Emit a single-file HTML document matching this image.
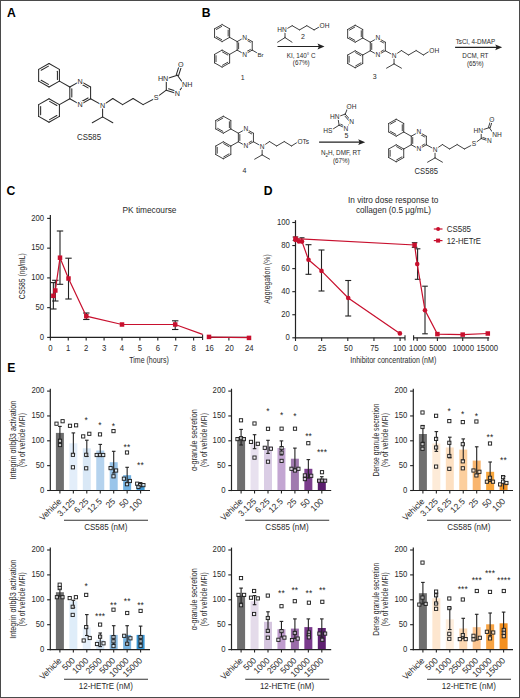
<!DOCTYPE html>
<html><head><meta charset="utf-8"><style>
html,body{margin:0;padding:0;background:#fff;}
svg{display:block;}
text{font-family:"Liberation Sans", sans-serif;}
</style></head><body>
<svg width="520" height="698" viewBox="0 0 520 698">
<rect x="0" y="0" width="520" height="698" fill="#fff"/>
<text x="7.00" y="16.90" font-size="12.2" text-anchor="start" fill="#000" font-weight="bold" >A</text>
<text x="201.70" y="16.90" font-size="12.2" text-anchor="start" fill="#000" font-weight="bold" >B</text>
<text x="6.60" y="194.50" font-size="12.2" text-anchor="start" fill="#000" font-weight="bold" >C</text>
<text x="263.70" y="194.90" font-size="12.2" text-anchor="start" fill="#000" font-weight="bold" >D</text>
<text x="7.30" y="372.20" font-size="12.2" text-anchor="start" fill="#000" font-weight="bold" >E</text>
<text x="149.50" y="212.70" font-size="8.4" text-anchor="middle" fill="#2a2a2a" textLength="54.00" lengthAdjust="spacingAndGlyphs">PK timecourse</text>
<line x1="50.35" y1="215.00" x2="50.35" y2="338.00" stroke="#222" stroke-width="1.2" />
<line x1="47.15" y1="337.40" x2="50.35" y2="337.40" stroke="#222" stroke-width="1.1" />
<text x="44.15" y="339.70" font-size="9" text-anchor="end" fill="#2a2a2a" textLength="4.30" lengthAdjust="spacingAndGlyphs">0</text>
<line x1="47.15" y1="307.65" x2="50.35" y2="307.65" stroke="#222" stroke-width="1.1" />
<text x="44.15" y="309.95" font-size="9" text-anchor="end" fill="#2a2a2a" textLength="8.60" lengthAdjust="spacingAndGlyphs">50</text>
<line x1="47.15" y1="277.90" x2="50.35" y2="277.90" stroke="#222" stroke-width="1.1" />
<text x="44.15" y="280.20" font-size="9" text-anchor="end" fill="#2a2a2a" textLength="12.90" lengthAdjust="spacingAndGlyphs">100</text>
<line x1="47.15" y1="248.15" x2="50.35" y2="248.15" stroke="#222" stroke-width="1.1" />
<text x="44.15" y="250.45" font-size="9" text-anchor="end" fill="#2a2a2a" textLength="12.90" lengthAdjust="spacingAndGlyphs">150</text>
<line x1="47.15" y1="218.40" x2="50.35" y2="218.40" stroke="#222" stroke-width="1.1" />
<text x="44.15" y="220.70" font-size="9" text-anchor="end" fill="#2a2a2a" textLength="12.90" lengthAdjust="spacingAndGlyphs">200</text>
<text transform="translate(24.80,276.20) rotate(-90)" font-size="9" text-anchor="middle" fill="#2a2a2a" textLength="46.00" lengthAdjust="spacingAndGlyphs">CS585 (ng/mL)</text>
<line x1="49.75" y1="337.40" x2="202.60" y2="337.40" stroke="#222" stroke-width="1.2" />
<line x1="202.60" y1="334.40" x2="202.60" y2="340.00" stroke="#222" stroke-width="1.1" />
<line x1="50.35" y1="337.40" x2="50.35" y2="340.60" stroke="#222" stroke-width="1.1" />
<text x="50.35" y="351.00" font-size="9" text-anchor="middle" fill="#2a2a2a" textLength="4.30" lengthAdjust="spacingAndGlyphs">0</text>
<line x1="68.26" y1="337.40" x2="68.26" y2="340.60" stroke="#222" stroke-width="1.1" />
<text x="68.26" y="351.00" font-size="9" text-anchor="middle" fill="#2a2a2a" textLength="4.30" lengthAdjust="spacingAndGlyphs">1</text>
<line x1="86.17" y1="337.40" x2="86.17" y2="340.60" stroke="#222" stroke-width="1.1" />
<text x="86.17" y="351.00" font-size="9" text-anchor="middle" fill="#2a2a2a" textLength="4.30" lengthAdjust="spacingAndGlyphs">2</text>
<line x1="104.08" y1="337.40" x2="104.08" y2="340.60" stroke="#222" stroke-width="1.1" />
<text x="104.08" y="351.00" font-size="9" text-anchor="middle" fill="#2a2a2a" textLength="4.30" lengthAdjust="spacingAndGlyphs">3</text>
<line x1="121.99" y1="337.40" x2="121.99" y2="340.60" stroke="#222" stroke-width="1.1" />
<text x="121.99" y="351.00" font-size="9" text-anchor="middle" fill="#2a2a2a" textLength="4.30" lengthAdjust="spacingAndGlyphs">4</text>
<line x1="139.90" y1="337.40" x2="139.90" y2="340.60" stroke="#222" stroke-width="1.1" />
<text x="139.90" y="351.00" font-size="9" text-anchor="middle" fill="#2a2a2a" textLength="4.30" lengthAdjust="spacingAndGlyphs">5</text>
<line x1="157.81" y1="337.40" x2="157.81" y2="340.60" stroke="#222" stroke-width="1.1" />
<text x="157.81" y="351.00" font-size="9" text-anchor="middle" fill="#2a2a2a" textLength="4.30" lengthAdjust="spacingAndGlyphs">6</text>
<line x1="175.72" y1="337.40" x2="175.72" y2="340.60" stroke="#222" stroke-width="1.1" />
<text x="175.72" y="351.00" font-size="9" text-anchor="middle" fill="#2a2a2a" textLength="4.30" lengthAdjust="spacingAndGlyphs">7</text>
<line x1="193.63" y1="337.40" x2="193.63" y2="340.60" stroke="#222" stroke-width="1.1" />
<text x="193.63" y="351.00" font-size="9" text-anchor="middle" fill="#2a2a2a" textLength="4.30" lengthAdjust="spacingAndGlyphs">8</text>
<line x1="207.30" y1="337.40" x2="251.00" y2="337.40" stroke="#222" stroke-width="1.2" />
<line x1="228.88" y1="337.40" x2="228.88" y2="340.40" stroke="#222" stroke-width="1.1" />
<text x="209.50" y="351.00" font-size="9" text-anchor="middle" fill="#2a2a2a" textLength="8.60" lengthAdjust="spacingAndGlyphs">16</text>
<text x="229.38" y="351.00" font-size="9" text-anchor="middle" fill="#2a2a2a" textLength="8.60" lengthAdjust="spacingAndGlyphs">20</text>
<text x="249.26" y="351.00" font-size="9" text-anchor="middle" fill="#2a2a2a" textLength="8.60" lengthAdjust="spacingAndGlyphs">24</text>
<text x="149.00" y="363.40" font-size="9" text-anchor="middle" fill="#2a2a2a" textLength="39.50" lengthAdjust="spacingAndGlyphs">Time (hours)</text>
<line x1="53.35" y1="282.60" x2="53.35" y2="309.00" stroke="#222" stroke-width="1.1" />
<line x1="50.15" y1="282.60" x2="56.55" y2="282.60" stroke="#222" stroke-width="1.1" />
<line x1="50.15" y1="309.00" x2="56.55" y2="309.00" stroke="#222" stroke-width="1.1" />
<line x1="55.30" y1="280.30" x2="55.30" y2="301.00" stroke="#222" stroke-width="1.1" />
<line x1="52.10" y1="280.30" x2="58.50" y2="280.30" stroke="#222" stroke-width="1.1" />
<line x1="52.10" y1="301.00" x2="58.50" y2="301.00" stroke="#222" stroke-width="1.1" />
<line x1="60.00" y1="231.00" x2="60.00" y2="284.30" stroke="#222" stroke-width="1.1" />
<line x1="56.80" y1="231.00" x2="63.20" y2="231.00" stroke="#222" stroke-width="1.1" />
<line x1="56.80" y1="284.30" x2="63.20" y2="284.30" stroke="#222" stroke-width="1.1" />
<line x1="68.50" y1="258.20" x2="68.50" y2="299.00" stroke="#222" stroke-width="1.1" />
<line x1="65.30" y1="258.20" x2="71.70" y2="258.20" stroke="#222" stroke-width="1.1" />
<line x1="65.30" y1="299.00" x2="71.70" y2="299.00" stroke="#222" stroke-width="1.1" />
<line x1="86.30" y1="313.00" x2="86.30" y2="319.50" stroke="#222" stroke-width="1.1" />
<line x1="83.10" y1="313.00" x2="89.50" y2="313.00" stroke="#222" stroke-width="1.1" />
<line x1="83.10" y1="319.50" x2="89.50" y2="319.50" stroke="#222" stroke-width="1.1" />
<line x1="175.20" y1="320.80" x2="175.20" y2="329.50" stroke="#222" stroke-width="1.1" />
<line x1="172.00" y1="320.80" x2="178.40" y2="320.80" stroke="#222" stroke-width="1.1" />
<line x1="172.00" y1="329.50" x2="178.40" y2="329.50" stroke="#222" stroke-width="1.1" />
<polyline points="53.35,295.80 55.30,290.50 60.00,257.70 68.50,278.50 86.30,316.20 122.00,324.50 175.20,324.50 202.60,334.40" stroke="#c8102e" stroke-width="1.2" fill="none" />
<polyline points="207.50,337.20 251.00,337.60" stroke="#c8102e" stroke-width="1.2" fill="none" />
<rect x="51.10" y="293.55" width="4.5" height="4.5" fill="#c8102e"/>
<rect x="53.05" y="288.25" width="4.5" height="4.5" fill="#c8102e"/>
<rect x="57.75" y="255.45" width="4.5" height="4.5" fill="#c8102e"/>
<rect x="66.25" y="276.25" width="4.5" height="4.5" fill="#c8102e"/>
<rect x="84.05" y="313.95" width="4.5" height="4.5" fill="#c8102e"/>
<rect x="119.75" y="322.25" width="4.5" height="4.5" fill="#c8102e"/>
<rect x="172.95" y="322.25" width="4.5" height="4.5" fill="#c8102e"/>
<rect x="206.75" y="334.65" width="4.5" height="4.5" fill="#c8102e"/>
<rect x="246.75" y="335.65" width="4.5" height="4.5" fill="#c8102e"/>
<text x="393.20" y="203.10" font-size="8.4" text-anchor="middle" fill="#2a2a2a" textLength="90.40" lengthAdjust="spacingAndGlyphs">In vitro dose response to</text>
<text x="393.50" y="212.60" font-size="8.4" text-anchor="middle" fill="#2a2a2a" textLength="75.10" lengthAdjust="spacingAndGlyphs">collagen (0.5 μg/mL)</text>
<line x1="295.50" y1="220.20" x2="295.50" y2="338.40" stroke="#222" stroke-width="1.2" />
<line x1="292.30" y1="337.80" x2="295.50" y2="337.80" stroke="#222" stroke-width="1.1" />
<text x="289.90" y="340.10" font-size="9" text-anchor="end" fill="#2a2a2a" textLength="4.30" lengthAdjust="spacingAndGlyphs">0</text>
<line x1="292.30" y1="314.74" x2="295.50" y2="314.74" stroke="#222" stroke-width="1.1" />
<text x="289.90" y="317.04" font-size="9" text-anchor="end" fill="#2a2a2a" textLength="8.60" lengthAdjust="spacingAndGlyphs">20</text>
<line x1="292.30" y1="291.68" x2="295.50" y2="291.68" stroke="#222" stroke-width="1.1" />
<text x="289.90" y="293.98" font-size="9" text-anchor="end" fill="#2a2a2a" textLength="8.60" lengthAdjust="spacingAndGlyphs">40</text>
<line x1="292.30" y1="268.62" x2="295.50" y2="268.62" stroke="#222" stroke-width="1.1" />
<text x="289.90" y="270.92" font-size="9" text-anchor="end" fill="#2a2a2a" textLength="8.60" lengthAdjust="spacingAndGlyphs">60</text>
<line x1="292.30" y1="245.56" x2="295.50" y2="245.56" stroke="#222" stroke-width="1.1" />
<text x="289.90" y="247.86" font-size="9" text-anchor="end" fill="#2a2a2a" textLength="8.60" lengthAdjust="spacingAndGlyphs">80</text>
<line x1="292.30" y1="222.50" x2="295.50" y2="222.50" stroke="#222" stroke-width="1.1" />
<text x="289.90" y="224.80" font-size="9" text-anchor="end" fill="#2a2a2a" textLength="12.90" lengthAdjust="spacingAndGlyphs">100</text>
<text transform="translate(270.20,279.00) rotate(-90)" font-size="9" text-anchor="middle" fill="#2a2a2a" textLength="49.50" lengthAdjust="spacingAndGlyphs">Aggregation (%)</text>
<line x1="294.90" y1="337.80" x2="405.00" y2="337.80" stroke="#222" stroke-width="1.2" />
<line x1="405.00" y1="335.20" x2="405.00" y2="340.40" stroke="#222" stroke-width="1.1" />
<line x1="295.50" y1="337.80" x2="295.50" y2="341.00" stroke="#222" stroke-width="1.1" />
<line x1="321.65" y1="337.80" x2="321.65" y2="341.00" stroke="#222" stroke-width="1.1" />
<line x1="347.80" y1="337.80" x2="347.80" y2="341.00" stroke="#222" stroke-width="1.1" />
<line x1="373.95" y1="337.80" x2="373.95" y2="341.00" stroke="#222" stroke-width="1.1" />
<line x1="400.10" y1="337.80" x2="400.10" y2="341.00" stroke="#222" stroke-width="1.1" />
<text x="295.60" y="351.20" font-size="9" text-anchor="middle" fill="#2a2a2a" textLength="4.30" lengthAdjust="spacingAndGlyphs">0</text>
<text x="322.00" y="351.20" font-size="9" text-anchor="middle" fill="#2a2a2a" textLength="8.60" lengthAdjust="spacingAndGlyphs">25</text>
<text x="348.40" y="351.20" font-size="9" text-anchor="middle" fill="#2a2a2a" textLength="8.60" lengthAdjust="spacingAndGlyphs">50</text>
<text x="374.60" y="351.20" font-size="9" text-anchor="middle" fill="#2a2a2a" textLength="8.60" lengthAdjust="spacingAndGlyphs">75</text>
<text x="399.50" y="351.20" font-size="9" text-anchor="middle" fill="#2a2a2a" textLength="12.90" lengthAdjust="spacingAndGlyphs">100</text>
<line x1="413.60" y1="337.80" x2="489.20" y2="337.80" stroke="#222" stroke-width="1.2" />
<line x1="413.60" y1="335.20" x2="413.60" y2="340.40" stroke="#222" stroke-width="1.1" />
<line x1="417.16" y1="337.80" x2="417.16" y2="341.00" stroke="#222" stroke-width="1.1" />
<line x1="437.40" y1="337.80" x2="437.40" y2="341.00" stroke="#222" stroke-width="1.1" />
<line x1="462.70" y1="337.80" x2="462.70" y2="341.00" stroke="#222" stroke-width="1.1" />
<line x1="488.00" y1="337.80" x2="488.00" y2="341.00" stroke="#222" stroke-width="1.1" />
<text x="417.70" y="351.20" font-size="9" text-anchor="middle" fill="#2a2a2a" textLength="17.20" lengthAdjust="spacingAndGlyphs">1000</text>
<text x="437.80" y="351.20" font-size="9" text-anchor="middle" fill="#2a2a2a" textLength="17.20" lengthAdjust="spacingAndGlyphs">5000</text>
<text x="463.20" y="351.20" font-size="9" text-anchor="middle" fill="#2a2a2a" textLength="21.50" lengthAdjust="spacingAndGlyphs">10000</text>
<text x="487.30" y="351.20" font-size="9" text-anchor="middle" fill="#2a2a2a" textLength="21.50" lengthAdjust="spacingAndGlyphs">15000</text>
<text x="393.30" y="362.80" font-size="9" text-anchor="middle" fill="#2a2a2a" textLength="86.00" lengthAdjust="spacingAndGlyphs">Inhibitor concentration (nM)</text>
<line x1="433.80" y1="229.00" x2="442.50" y2="229.00" stroke="#c8102e" stroke-width="1.2" />
<circle cx="438.1" cy="229" r="2" fill="#c8102e"/>
<text x="446.80" y="231.90" font-size="8.4" text-anchor="start" fill="#2a2a2a" textLength="24.20" lengthAdjust="spacingAndGlyphs">CS585</text>
<line x1="433.80" y1="240.60" x2="442.50" y2="240.60" stroke="#c8102e" stroke-width="1.2" />
<rect x="436.1" y="238.6" width="4" height="4" fill="#c8102e"/>
<text x="446.80" y="243.50" font-size="8.4" text-anchor="start" fill="#2a2a2a" textLength="34.20" lengthAdjust="spacingAndGlyphs">12-HETrE</text>
<line x1="308.50" y1="244.70" x2="308.50" y2="274.30" stroke="#222" stroke-width="1.1" />
<line x1="305.50" y1="244.70" x2="311.50" y2="244.70" stroke="#222" stroke-width="1.1" />
<line x1="305.50" y1="274.30" x2="311.50" y2="274.30" stroke="#222" stroke-width="1.1" />
<line x1="321.50" y1="250.00" x2="321.50" y2="291.00" stroke="#222" stroke-width="1.1" />
<line x1="318.50" y1="250.00" x2="324.50" y2="250.00" stroke="#222" stroke-width="1.1" />
<line x1="318.50" y1="291.00" x2="324.50" y2="291.00" stroke="#222" stroke-width="1.1" />
<line x1="348.20" y1="280.50" x2="348.20" y2="316.00" stroke="#222" stroke-width="1.1" />
<line x1="345.20" y1="280.50" x2="351.20" y2="280.50" stroke="#222" stroke-width="1.1" />
<line x1="345.20" y1="316.00" x2="351.20" y2="316.00" stroke="#222" stroke-width="1.1" />
<line x1="295.50" y1="237.00" x2="295.50" y2="240.50" stroke="#222" stroke-width="1.1" />
<line x1="292.70" y1="237.00" x2="298.30" y2="237.00" stroke="#222" stroke-width="1.1" />
<line x1="292.70" y1="240.50" x2="298.30" y2="240.50" stroke="#222" stroke-width="1.1" />
<line x1="414.60" y1="242.70" x2="414.60" y2="247.30" stroke="#222" stroke-width="1.1" />
<line x1="411.80" y1="242.70" x2="417.40" y2="242.70" stroke="#222" stroke-width="1.1" />
<line x1="411.80" y1="247.30" x2="417.40" y2="247.30" stroke="#222" stroke-width="1.1" />
<line x1="417.60" y1="248.80" x2="417.60" y2="279.30" stroke="#222" stroke-width="1.1" />
<line x1="414.80" y1="248.80" x2="420.40" y2="248.80" stroke="#222" stroke-width="1.1" />
<line x1="414.80" y1="279.30" x2="420.40" y2="279.30" stroke="#222" stroke-width="1.1" />
<line x1="425.00" y1="286.20" x2="425.00" y2="333.80" stroke="#222" stroke-width="1.1" />
<line x1="422.20" y1="286.20" x2="427.80" y2="286.20" stroke="#222" stroke-width="1.1" />
<line x1="422.20" y1="333.80" x2="427.80" y2="333.80" stroke="#222" stroke-width="1.1" />
<line x1="301.80" y1="237.80" x2="301.80" y2="242.00" stroke="#222" stroke-width="1.1" />
<line x1="299.50" y1="237.80" x2="304.50" y2="237.80" stroke="#222" stroke-width="1.1" />
<polyline points="295.50,238.70 414.60,245.00 417.20,264.10 425.00,310.30 437.40,334.10 462.70,334.60 487.80,333.50" stroke="#c8102e" stroke-width="1.2" fill="none" />
<polyline points="295.50,240.00 298.90,241.40 302.00,241.60 308.50,259.80 321.50,270.90 348.20,298.00 399.90,333.40" stroke="#c8102e" stroke-width="1.2" fill="none" />
<circle cx="295.5" cy="240.0" r="2.3" fill="#c8102e"/>
<circle cx="298.9" cy="241.4" r="2.3" fill="#c8102e"/>
<circle cx="302.0" cy="241.6" r="2.3" fill="#c8102e"/>
<circle cx="308.5" cy="259.8" r="2.3" fill="#c8102e"/>
<circle cx="321.5" cy="270.9" r="2.3" fill="#c8102e"/>
<circle cx="348.2" cy="298.0" r="2.3" fill="#c8102e"/>
<circle cx="399.9" cy="333.4" r="2.3" fill="#c8102e"/>
<rect x="293.25" y="236.45" width="4.5" height="4.5" fill="#c8102e"/>
<rect x="412.35" y="242.75" width="4.5" height="4.5" fill="#c8102e"/>
<circle cx="417.2" cy="264.1" r="2.3" fill="#c8102e"/>
<circle cx="425.0" cy="310.3" r="2.3" fill="#c8102e"/>
<rect x="435.15" y="331.85" width="4.5" height="4.5" fill="#c8102e"/>
<rect x="460.45" y="332.35" width="4.5" height="4.5" fill="#c8102e"/>
<rect x="485.55" y="331.25" width="4.5" height="4.5" fill="#c8102e"/>
<rect x="55.90" y="432.90" width="8" height="57.60" fill="#6f6f6f"/>
<rect x="69.35" y="443.30" width="8" height="47.20" fill="#e3eefa"/>
<rect x="82.80" y="448.30" width="8" height="42.20" fill="#d9e8f6"/>
<rect x="96.25" y="450.50" width="8" height="40.00" fill="#b5d3ee"/>
<rect x="109.70" y="462.20" width="8" height="28.30" fill="#9ac5ea"/>
<rect x="123.15" y="475.20" width="8" height="15.30" fill="#70b0e0"/>
<rect x="136.60" y="484.60" width="8" height="5.90" fill="#3d97d3"/>
<line x1="59.90" y1="426.40" x2="59.90" y2="439.50" stroke="#222" stroke-width="1.1" />
<line x1="58.10" y1="426.40" x2="61.70" y2="426.40" stroke="#222" stroke-width="1.1" />
<line x1="58.10" y1="439.50" x2="61.70" y2="439.50" stroke="#222" stroke-width="1.1" />
<line x1="73.35" y1="432.90" x2="73.35" y2="453.80" stroke="#222" stroke-width="1.1" />
<line x1="71.55" y1="432.90" x2="75.15" y2="432.90" stroke="#222" stroke-width="1.1" />
<line x1="71.55" y1="453.80" x2="75.15" y2="453.80" stroke="#222" stroke-width="1.1" />
<line x1="86.80" y1="440.20" x2="86.80" y2="456.50" stroke="#222" stroke-width="1.1" />
<line x1="85.00" y1="440.20" x2="88.60" y2="440.20" stroke="#222" stroke-width="1.1" />
<line x1="85.00" y1="456.50" x2="88.60" y2="456.50" stroke="#222" stroke-width="1.1" />
<line x1="100.25" y1="444.40" x2="100.25" y2="456.00" stroke="#222" stroke-width="1.1" />
<line x1="98.45" y1="444.40" x2="102.05" y2="444.40" stroke="#222" stroke-width="1.1" />
<line x1="98.45" y1="456.00" x2="102.05" y2="456.00" stroke="#222" stroke-width="1.1" />
<line x1="113.70" y1="451.30" x2="113.70" y2="473.00" stroke="#222" stroke-width="1.1" />
<line x1="111.90" y1="451.30" x2="115.50" y2="451.30" stroke="#222" stroke-width="1.1" />
<line x1="111.90" y1="473.00" x2="115.50" y2="473.00" stroke="#222" stroke-width="1.1" />
<line x1="127.15" y1="467.30" x2="127.15" y2="483.00" stroke="#222" stroke-width="1.1" />
<line x1="125.35" y1="467.30" x2="128.95" y2="467.30" stroke="#222" stroke-width="1.1" />
<line x1="125.35" y1="483.00" x2="128.95" y2="483.00" stroke="#222" stroke-width="1.1" />
<line x1="140.60" y1="482.60" x2="140.60" y2="486.60" stroke="#222" stroke-width="1.1" />
<line x1="138.80" y1="482.60" x2="142.40" y2="482.60" stroke="#222" stroke-width="1.1" />
<line x1="138.80" y1="486.60" x2="142.40" y2="486.60" stroke="#222" stroke-width="1.1" />
<rect x="54.90" y="422.10" width="3.2" height="3.2" fill="#fff" fill-opacity="0.6" stroke="#222" stroke-width="0.95"/>
<rect x="61.00" y="419.60" width="3.2" height="3.2" fill="#fff" fill-opacity="0.6" stroke="#222" stroke-width="0.95"/>
<rect x="58.40" y="439.20" width="3.2" height="3.2" fill="#fff" fill-opacity="0.6" stroke="#222" stroke-width="0.95"/>
<rect x="58.40" y="443.40" width="3.2" height="3.2" fill="#fff" fill-opacity="0.6" stroke="#222" stroke-width="0.95"/>
<rect x="68.40" y="424.20" width="3.2" height="3.2" fill="#fff" fill-opacity="0.6" stroke="#222" stroke-width="0.95"/>
<rect x="74.50" y="423.70" width="3.2" height="3.2" fill="#fff" fill-opacity="0.6" stroke="#222" stroke-width="0.95"/>
<rect x="71.30" y="453.20" width="3.2" height="3.2" fill="#fff" fill-opacity="0.6" stroke="#222" stroke-width="0.95"/>
<rect x="71.30" y="465.70" width="3.2" height="3.2" fill="#fff" fill-opacity="0.6" stroke="#222" stroke-width="0.95"/>
<rect x="81.60" y="434.80" width="3.2" height="3.2" fill="#fff" fill-opacity="0.6" stroke="#222" stroke-width="0.95"/>
<rect x="87.70" y="432.20" width="3.2" height="3.2" fill="#fff" fill-opacity="0.6" stroke="#222" stroke-width="0.95"/>
<rect x="84.60" y="453.20" width="3.2" height="3.2" fill="#fff" fill-opacity="0.6" stroke="#222" stroke-width="0.95"/>
<rect x="84.60" y="466.70" width="3.2" height="3.2" fill="#fff" fill-opacity="0.6" stroke="#222" stroke-width="0.95"/>
<rect x="98.40" y="432.80" width="3.2" height="3.2" fill="#fff" fill-opacity="0.6" stroke="#222" stroke-width="0.95"/>
<rect x="95.10" y="453.40" width="3.2" height="3.2" fill="#fff" fill-opacity="0.6" stroke="#222" stroke-width="0.95"/>
<rect x="98.40" y="453.40" width="3.2" height="3.2" fill="#fff" fill-opacity="0.6" stroke="#222" stroke-width="0.95"/>
<rect x="101.60" y="453.40" width="3.2" height="3.2" fill="#fff" fill-opacity="0.6" stroke="#222" stroke-width="0.95"/>
<rect x="111.90" y="429.50" width="3.2" height="3.2" fill="#fff" fill-opacity="0.6" stroke="#222" stroke-width="0.95"/>
<rect x="109.00" y="466.50" width="3.2" height="3.2" fill="#fff" fill-opacity="0.6" stroke="#222" stroke-width="0.95"/>
<rect x="114.50" y="468.90" width="3.2" height="3.2" fill="#fff" fill-opacity="0.6" stroke="#222" stroke-width="0.95"/>
<rect x="111.90" y="474.70" width="3.2" height="3.2" fill="#fff" fill-opacity="0.6" stroke="#222" stroke-width="0.95"/>
<rect x="125.40" y="450.90" width="3.2" height="3.2" fill="#fff" fill-opacity="0.6" stroke="#222" stroke-width="0.95"/>
<rect x="122.30" y="477.10" width="3.2" height="3.2" fill="#fff" fill-opacity="0.6" stroke="#222" stroke-width="0.95"/>
<rect x="128.30" y="479.40" width="3.2" height="3.2" fill="#fff" fill-opacity="0.6" stroke="#222" stroke-width="0.95"/>
<rect x="125.40" y="482.60" width="3.2" height="3.2" fill="#fff" fill-opacity="0.6" stroke="#222" stroke-width="0.95"/>
<rect x="135.60" y="482.10" width="3.2" height="3.2" fill="#fff" fill-opacity="0.6" stroke="#222" stroke-width="0.95"/>
<rect x="138.50" y="483.50" width="3.2" height="3.2" fill="#fff" fill-opacity="0.6" stroke="#222" stroke-width="0.95"/>
<rect x="141.80" y="483.50" width="3.2" height="3.2" fill="#fff" fill-opacity="0.6" stroke="#222" stroke-width="0.95"/>
<rect x="136.80" y="485.30" width="3.2" height="3.2" fill="#fff" fill-opacity="0.6" stroke="#222" stroke-width="0.95"/>
<text x="86.20" y="423.10" font-size="8.4" text-anchor="middle" fill="#1a1a1a" letter-spacing="0.15">*</text>
<text x="100.00" y="427.90" font-size="8.4" text-anchor="middle" fill="#1a1a1a" letter-spacing="0.15">*</text>
<text x="113.50" y="429.30" font-size="8.4" text-anchor="middle" fill="#1a1a1a" letter-spacing="0.15">*</text>
<text x="127.00" y="450.10" font-size="8.4" text-anchor="middle" fill="#1a1a1a" letter-spacing="0.15">**</text>
<text x="140.40" y="467.80" font-size="8.4" text-anchor="middle" fill="#1a1a1a" letter-spacing="0.15">**</text>
<line x1="50.30" y1="388.70" x2="50.30" y2="491.10" stroke="#222" stroke-width="1.2" />
<line x1="49.70" y1="490.50" x2="150.00" y2="490.50" stroke="#222" stroke-width="1.2" />
<line x1="47.10" y1="490.50" x2="50.30" y2="490.50" stroke="#222" stroke-width="1.1" />
<text x="44.30" y="492.80" font-size="9" text-anchor="end" fill="#2a2a2a" textLength="4.30" lengthAdjust="spacingAndGlyphs">0</text>
<line x1="47.10" y1="465.65" x2="50.30" y2="465.65" stroke="#222" stroke-width="1.1" />
<text x="44.30" y="467.95" font-size="9" text-anchor="end" fill="#2a2a2a" textLength="8.60" lengthAdjust="spacingAndGlyphs">50</text>
<line x1="47.10" y1="440.80" x2="50.30" y2="440.80" stroke="#222" stroke-width="1.1" />
<text x="44.30" y="443.10" font-size="9" text-anchor="end" fill="#2a2a2a" textLength="12.90" lengthAdjust="spacingAndGlyphs">100</text>
<line x1="47.10" y1="415.95" x2="50.30" y2="415.95" stroke="#222" stroke-width="1.1" />
<text x="44.30" y="418.25" font-size="9" text-anchor="end" fill="#2a2a2a" textLength="12.90" lengthAdjust="spacingAndGlyphs">150</text>
<line x1="47.10" y1="391.10" x2="50.30" y2="391.10" stroke="#222" stroke-width="1.1" />
<text x="44.30" y="393.40" font-size="9" text-anchor="end" fill="#2a2a2a" textLength="12.90" lengthAdjust="spacingAndGlyphs">200</text>
<line x1="59.90" y1="490.50" x2="59.90" y2="493.50" stroke="#222" stroke-width="1.1" />
<line x1="73.35" y1="490.50" x2="73.35" y2="493.50" stroke="#222" stroke-width="1.1" />
<line x1="86.80" y1="490.50" x2="86.80" y2="493.50" stroke="#222" stroke-width="1.1" />
<line x1="100.25" y1="490.50" x2="100.25" y2="493.50" stroke="#222" stroke-width="1.1" />
<line x1="113.70" y1="490.50" x2="113.70" y2="493.50" stroke="#222" stroke-width="1.1" />
<line x1="127.15" y1="490.50" x2="127.15" y2="493.50" stroke="#222" stroke-width="1.1" />
<line x1="140.60" y1="490.50" x2="140.60" y2="493.50" stroke="#222" stroke-width="1.1" />
<text transform="translate(15.60,440.10) rotate(-90)" font-size="8.6" text-anchor="middle" fill="#2a2a2a" textLength="79.00" lengthAdjust="spacingAndGlyphs">Integrin αIIbβ3 activation</text>
<text transform="translate(25.40,440.10) rotate(-90)" font-size="8.6" text-anchor="middle" fill="#2a2a2a" textLength="54.00" lengthAdjust="spacingAndGlyphs">(% of vehicle MFI)</text>
<text transform="translate(62.10,502.00) rotate(-45)" font-size="8.6" text-anchor="end" fill="#2a2a2a" textLength="27.18" lengthAdjust="spacingAndGlyphs">Vehicle</text>
<text transform="translate(75.55,502.00) rotate(-45)" font-size="8.6" text-anchor="end" fill="#2a2a2a" textLength="21.09" lengthAdjust="spacingAndGlyphs">3.125</text>
<text transform="translate(89.00,502.00) rotate(-45)" font-size="8.6" text-anchor="end" fill="#2a2a2a" textLength="16.40" lengthAdjust="spacingAndGlyphs">6.25</text>
<text transform="translate(102.45,502.00) rotate(-45)" font-size="8.6" text-anchor="end" fill="#2a2a2a" textLength="16.40" lengthAdjust="spacingAndGlyphs">12.5</text>
<text transform="translate(115.90,502.00) rotate(-45)" font-size="8.6" text-anchor="end" fill="#2a2a2a" textLength="9.37" lengthAdjust="spacingAndGlyphs">25</text>
<text transform="translate(129.35,502.00) rotate(-45)" font-size="8.6" text-anchor="end" fill="#2a2a2a" textLength="9.37" lengthAdjust="spacingAndGlyphs">50</text>
<text transform="translate(142.80,502.00) rotate(-45)" font-size="8.6" text-anchor="end" fill="#2a2a2a" textLength="14.06" lengthAdjust="spacingAndGlyphs">100</text>
<line x1="64.00" y1="520.20" x2="148.00" y2="520.20" stroke="#333" stroke-width="1.1" />
<text x="105.80" y="530.00" font-size="8.2" text-anchor="middle" fill="#2a2a2a" textLength="43.32" lengthAdjust="spacingAndGlyphs">CS585 (nM)</text>
<rect x="237.10" y="437.20" width="8" height="53.30" fill="#6f6f6f"/>
<rect x="250.55" y="441.70" width="8" height="48.80" fill="#e8e1ef"/>
<rect x="264.00" y="446.40" width="8" height="44.10" fill="#dacde5"/>
<rect x="277.45" y="448.00" width="8" height="42.50" fill="#c3a6d2"/>
<rect x="290.90" y="458.70" width="8" height="31.80" fill="#a07aaf"/>
<rect x="304.35" y="468.80" width="8" height="21.70" fill="#7b3d8d"/>
<rect x="317.80" y="479.10" width="8" height="11.40" fill="#5a1d6e"/>
<line x1="241.10" y1="429.40" x2="241.10" y2="445.00" stroke="#222" stroke-width="1.1" />
<line x1="239.30" y1="429.40" x2="242.90" y2="429.40" stroke="#222" stroke-width="1.1" />
<line x1="239.30" y1="445.00" x2="242.90" y2="445.00" stroke="#222" stroke-width="1.1" />
<line x1="254.55" y1="434.70" x2="254.55" y2="448.70" stroke="#222" stroke-width="1.1" />
<line x1="252.75" y1="434.70" x2="256.35" y2="434.70" stroke="#222" stroke-width="1.1" />
<line x1="252.75" y1="448.70" x2="256.35" y2="448.70" stroke="#222" stroke-width="1.1" />
<line x1="268.00" y1="440.30" x2="268.00" y2="453.40" stroke="#222" stroke-width="1.1" />
<line x1="266.20" y1="440.30" x2="269.80" y2="440.30" stroke="#222" stroke-width="1.1" />
<line x1="266.20" y1="453.40" x2="269.80" y2="453.40" stroke="#222" stroke-width="1.1" />
<line x1="281.45" y1="440.90" x2="281.45" y2="455.00" stroke="#222" stroke-width="1.1" />
<line x1="279.65" y1="440.90" x2="283.25" y2="440.90" stroke="#222" stroke-width="1.1" />
<line x1="279.65" y1="455.00" x2="283.25" y2="455.00" stroke="#222" stroke-width="1.1" />
<line x1="294.90" y1="448.10" x2="294.90" y2="469.00" stroke="#222" stroke-width="1.1" />
<line x1="293.10" y1="448.10" x2="296.70" y2="448.10" stroke="#222" stroke-width="1.1" />
<line x1="293.10" y1="469.00" x2="296.70" y2="469.00" stroke="#222" stroke-width="1.1" />
<line x1="308.35" y1="459.60" x2="308.35" y2="478.00" stroke="#222" stroke-width="1.1" />
<line x1="306.55" y1="459.60" x2="310.15" y2="459.60" stroke="#222" stroke-width="1.1" />
<line x1="306.55" y1="478.00" x2="310.15" y2="478.00" stroke="#222" stroke-width="1.1" />
<line x1="321.80" y1="476.70" x2="321.80" y2="481.50" stroke="#222" stroke-width="1.1" />
<line x1="320.00" y1="476.70" x2="323.60" y2="476.70" stroke="#222" stroke-width="1.1" />
<line x1="320.00" y1="481.50" x2="323.60" y2="481.50" stroke="#222" stroke-width="1.1" />
<rect x="239.40" y="418.70" width="3.2" height="3.2" fill="#fff" fill-opacity="0.6" stroke="#222" stroke-width="0.95"/>
<rect x="235.90" y="437.50" width="3.2" height="3.2" fill="#fff" fill-opacity="0.6" stroke="#222" stroke-width="0.95"/>
<rect x="239.40" y="436.60" width="3.2" height="3.2" fill="#fff" fill-opacity="0.6" stroke="#222" stroke-width="0.95"/>
<rect x="242.30" y="437.50" width="3.2" height="3.2" fill="#fff" fill-opacity="0.6" stroke="#222" stroke-width="0.95"/>
<rect x="252.90" y="421.90" width="3.2" height="3.2" fill="#fff" fill-opacity="0.6" stroke="#222" stroke-width="0.95"/>
<rect x="249.40" y="440.30" width="3.2" height="3.2" fill="#fff" fill-opacity="0.6" stroke="#222" stroke-width="0.95"/>
<rect x="256.20" y="442.20" width="3.2" height="3.2" fill="#fff" fill-opacity="0.6" stroke="#222" stroke-width="0.95"/>
<rect x="252.90" y="456.00" width="3.2" height="3.2" fill="#fff" fill-opacity="0.6" stroke="#222" stroke-width="0.95"/>
<rect x="266.40" y="427.20" width="3.2" height="3.2" fill="#fff" fill-opacity="0.6" stroke="#222" stroke-width="0.95"/>
<rect x="263.20" y="446.20" width="3.2" height="3.2" fill="#fff" fill-opacity="0.6" stroke="#222" stroke-width="0.95"/>
<rect x="269.30" y="447.10" width="3.2" height="3.2" fill="#fff" fill-opacity="0.6" stroke="#222" stroke-width="0.95"/>
<rect x="266.40" y="460.10" width="3.2" height="3.2" fill="#fff" fill-opacity="0.6" stroke="#222" stroke-width="0.95"/>
<rect x="280.00" y="427.10" width="3.2" height="3.2" fill="#fff" fill-opacity="0.6" stroke="#222" stroke-width="0.95"/>
<rect x="280.00" y="446.50" width="3.2" height="3.2" fill="#fff" fill-opacity="0.6" stroke="#222" stroke-width="0.95"/>
<rect x="280.00" y="451.10" width="3.2" height="3.2" fill="#fff" fill-opacity="0.6" stroke="#222" stroke-width="0.95"/>
<rect x="280.00" y="459.30" width="3.2" height="3.2" fill="#fff" fill-opacity="0.6" stroke="#222" stroke-width="0.95"/>
<rect x="293.40" y="427.10" width="3.2" height="3.2" fill="#fff" fill-opacity="0.6" stroke="#222" stroke-width="0.95"/>
<rect x="289.90" y="467.20" width="3.2" height="3.2" fill="#fff" fill-opacity="0.6" stroke="#222" stroke-width="0.95"/>
<rect x="296.80" y="467.20" width="3.2" height="3.2" fill="#fff" fill-opacity="0.6" stroke="#222" stroke-width="0.95"/>
<rect x="293.40" y="468.90" width="3.2" height="3.2" fill="#fff" fill-opacity="0.6" stroke="#222" stroke-width="0.95"/>
<rect x="306.70" y="441.60" width="3.2" height="3.2" fill="#fff" fill-opacity="0.6" stroke="#222" stroke-width="0.95"/>
<rect x="303.30" y="473.80" width="3.2" height="3.2" fill="#fff" fill-opacity="0.6" stroke="#222" stroke-width="0.95"/>
<rect x="309.60" y="474.20" width="3.2" height="3.2" fill="#fff" fill-opacity="0.6" stroke="#222" stroke-width="0.95"/>
<rect x="303.30" y="477.50" width="3.2" height="3.2" fill="#fff" fill-opacity="0.6" stroke="#222" stroke-width="0.95"/>
<rect x="320.40" y="470.60" width="3.2" height="3.2" fill="#fff" fill-opacity="0.6" stroke="#222" stroke-width="0.95"/>
<rect x="317.50" y="479.10" width="3.2" height="3.2" fill="#fff" fill-opacity="0.6" stroke="#222" stroke-width="0.95"/>
<rect x="323.50" y="479.10" width="3.2" height="3.2" fill="#fff" fill-opacity="0.6" stroke="#222" stroke-width="0.95"/>
<rect x="320.40" y="479.10" width="3.2" height="3.2" fill="#fff" fill-opacity="0.6" stroke="#222" stroke-width="0.95"/>
<text x="268.00" y="414.10" font-size="8.4" text-anchor="middle" fill="#1a1a1a" letter-spacing="0.15">*</text>
<text x="281.60" y="417.80" font-size="8.4" text-anchor="middle" fill="#1a1a1a" letter-spacing="0.15">*</text>
<text x="295.00" y="419.10" font-size="8.4" text-anchor="middle" fill="#1a1a1a" letter-spacing="0.15">*</text>
<text x="308.60" y="438.60" font-size="8.4" text-anchor="middle" fill="#1a1a1a" letter-spacing="0.15">**</text>
<text x="322.00" y="455.10" font-size="8.4" text-anchor="middle" fill="#1a1a1a" letter-spacing="0.15">***</text>
<line x1="231.50" y1="388.70" x2="231.50" y2="491.10" stroke="#222" stroke-width="1.2" />
<line x1="230.90" y1="490.50" x2="331.20" y2="490.50" stroke="#222" stroke-width="1.2" />
<line x1="228.30" y1="490.50" x2="231.50" y2="490.50" stroke="#222" stroke-width="1.1" />
<text x="225.50" y="492.80" font-size="9" text-anchor="end" fill="#2a2a2a" textLength="4.30" lengthAdjust="spacingAndGlyphs">0</text>
<line x1="228.30" y1="465.65" x2="231.50" y2="465.65" stroke="#222" stroke-width="1.1" />
<text x="225.50" y="467.95" font-size="9" text-anchor="end" fill="#2a2a2a" textLength="8.60" lengthAdjust="spacingAndGlyphs">50</text>
<line x1="228.30" y1="440.80" x2="231.50" y2="440.80" stroke="#222" stroke-width="1.1" />
<text x="225.50" y="443.10" font-size="9" text-anchor="end" fill="#2a2a2a" textLength="12.90" lengthAdjust="spacingAndGlyphs">100</text>
<line x1="228.30" y1="415.95" x2="231.50" y2="415.95" stroke="#222" stroke-width="1.1" />
<text x="225.50" y="418.25" font-size="9" text-anchor="end" fill="#2a2a2a" textLength="12.90" lengthAdjust="spacingAndGlyphs">150</text>
<line x1="228.30" y1="391.10" x2="231.50" y2="391.10" stroke="#222" stroke-width="1.1" />
<text x="225.50" y="393.40" font-size="9" text-anchor="end" fill="#2a2a2a" textLength="12.90" lengthAdjust="spacingAndGlyphs">200</text>
<line x1="241.10" y1="490.50" x2="241.10" y2="493.50" stroke="#222" stroke-width="1.1" />
<line x1="254.55" y1="490.50" x2="254.55" y2="493.50" stroke="#222" stroke-width="1.1" />
<line x1="268.00" y1="490.50" x2="268.00" y2="493.50" stroke="#222" stroke-width="1.1" />
<line x1="281.45" y1="490.50" x2="281.45" y2="493.50" stroke="#222" stroke-width="1.1" />
<line x1="294.90" y1="490.50" x2="294.90" y2="493.50" stroke="#222" stroke-width="1.1" />
<line x1="308.35" y1="490.50" x2="308.35" y2="493.50" stroke="#222" stroke-width="1.1" />
<line x1="321.80" y1="490.50" x2="321.80" y2="493.50" stroke="#222" stroke-width="1.1" />
<text transform="translate(196.80,440.10) rotate(-90)" font-size="8.6" text-anchor="middle" fill="#2a2a2a" textLength="62.00" lengthAdjust="spacingAndGlyphs">α-granule secretion</text>
<text transform="translate(206.60,440.10) rotate(-90)" font-size="8.6" text-anchor="middle" fill="#2a2a2a" textLength="54.00" lengthAdjust="spacingAndGlyphs">(% of vehicle MFI)</text>
<text transform="translate(243.30,502.00) rotate(-45)" font-size="8.6" text-anchor="end" fill="#2a2a2a" textLength="27.18" lengthAdjust="spacingAndGlyphs">Vehicle</text>
<text transform="translate(256.75,502.00) rotate(-45)" font-size="8.6" text-anchor="end" fill="#2a2a2a" textLength="21.09" lengthAdjust="spacingAndGlyphs">3.125</text>
<text transform="translate(270.20,502.00) rotate(-45)" font-size="8.6" text-anchor="end" fill="#2a2a2a" textLength="16.40" lengthAdjust="spacingAndGlyphs">6.25</text>
<text transform="translate(283.65,502.00) rotate(-45)" font-size="8.6" text-anchor="end" fill="#2a2a2a" textLength="16.40" lengthAdjust="spacingAndGlyphs">12.5</text>
<text transform="translate(297.10,502.00) rotate(-45)" font-size="8.6" text-anchor="end" fill="#2a2a2a" textLength="9.37" lengthAdjust="spacingAndGlyphs">25</text>
<text transform="translate(310.55,502.00) rotate(-45)" font-size="8.6" text-anchor="end" fill="#2a2a2a" textLength="9.37" lengthAdjust="spacingAndGlyphs">50</text>
<text transform="translate(324.00,502.00) rotate(-45)" font-size="8.6" text-anchor="end" fill="#2a2a2a" textLength="14.06" lengthAdjust="spacingAndGlyphs">100</text>
<line x1="245.20" y1="520.20" x2="329.20" y2="520.20" stroke="#333" stroke-width="1.1" />
<text x="287.00" y="530.00" font-size="8.2" text-anchor="middle" fill="#2a2a2a" textLength="43.32" lengthAdjust="spacingAndGlyphs">CS585 (nM)</text>
<rect x="418.90" y="434.00" width="8" height="56.50" fill="#6f6f6f"/>
<rect x="432.35" y="443.50" width="8" height="47.00" fill="#fdebd8"/>
<rect x="445.80" y="447.50" width="8" height="43.00" fill="#fde0c2"/>
<rect x="459.25" y="449.60" width="8" height="40.90" fill="#fccf9e"/>
<rect x="472.70" y="460.60" width="8" height="29.90" fill="#f9b56e"/>
<rect x="486.15" y="471.80" width="8" height="18.70" fill="#f7a53c"/>
<rect x="499.60" y="483.00" width="8" height="7.50" fill="#f39425"/>
<line x1="422.90" y1="425.70" x2="422.90" y2="442.30" stroke="#222" stroke-width="1.1" />
<line x1="421.10" y1="425.70" x2="424.70" y2="425.70" stroke="#222" stroke-width="1.1" />
<line x1="421.10" y1="442.30" x2="424.70" y2="442.30" stroke="#222" stroke-width="1.1" />
<line x1="436.35" y1="431.60" x2="436.35" y2="451.40" stroke="#222" stroke-width="1.1" />
<line x1="434.55" y1="431.60" x2="438.15" y2="431.60" stroke="#222" stroke-width="1.1" />
<line x1="434.55" y1="451.40" x2="438.15" y2="451.40" stroke="#222" stroke-width="1.1" />
<line x1="449.80" y1="437.20" x2="449.80" y2="457.80" stroke="#222" stroke-width="1.1" />
<line x1="448.00" y1="437.20" x2="451.60" y2="437.20" stroke="#222" stroke-width="1.1" />
<line x1="448.00" y1="457.80" x2="451.60" y2="457.80" stroke="#222" stroke-width="1.1" />
<line x1="463.25" y1="438.90" x2="463.25" y2="460.30" stroke="#222" stroke-width="1.1" />
<line x1="461.45" y1="438.90" x2="465.05" y2="438.90" stroke="#222" stroke-width="1.1" />
<line x1="461.45" y1="460.30" x2="465.05" y2="460.30" stroke="#222" stroke-width="1.1" />
<line x1="476.70" y1="446.80" x2="476.70" y2="474.40" stroke="#222" stroke-width="1.1" />
<line x1="474.90" y1="446.80" x2="478.50" y2="446.80" stroke="#222" stroke-width="1.1" />
<line x1="474.90" y1="474.40" x2="478.50" y2="474.40" stroke="#222" stroke-width="1.1" />
<line x1="490.15" y1="462.00" x2="490.15" y2="481.60" stroke="#222" stroke-width="1.1" />
<line x1="488.35" y1="462.00" x2="491.95" y2="462.00" stroke="#222" stroke-width="1.1" />
<line x1="488.35" y1="481.60" x2="491.95" y2="481.60" stroke="#222" stroke-width="1.1" />
<line x1="503.60" y1="476.50" x2="503.60" y2="489.50" stroke="#222" stroke-width="1.1" />
<line x1="501.80" y1="476.50" x2="505.40" y2="476.50" stroke="#222" stroke-width="1.1" />
<rect x="420.90" y="410.90" width="3.2" height="3.2" fill="#fff" fill-opacity="0.6" stroke="#222" stroke-width="0.95"/>
<rect x="420.90" y="425.40" width="3.2" height="3.2" fill="#fff" fill-opacity="0.6" stroke="#222" stroke-width="0.95"/>
<rect x="420.90" y="442.60" width="3.2" height="3.2" fill="#fff" fill-opacity="0.6" stroke="#222" stroke-width="0.95"/>
<rect x="420.90" y="447.20" width="3.2" height="3.2" fill="#fff" fill-opacity="0.6" stroke="#222" stroke-width="0.95"/>
<rect x="434.50" y="414.20" width="3.2" height="3.2" fill="#fff" fill-opacity="0.6" stroke="#222" stroke-width="0.95"/>
<rect x="434.50" y="437.30" width="3.2" height="3.2" fill="#fff" fill-opacity="0.6" stroke="#222" stroke-width="0.95"/>
<rect x="434.50" y="445.90" width="3.2" height="3.2" fill="#fff" fill-opacity="0.6" stroke="#222" stroke-width="0.95"/>
<rect x="434.50" y="465.00" width="3.2" height="3.2" fill="#fff" fill-opacity="0.6" stroke="#222" stroke-width="0.95"/>
<rect x="447.70" y="419.50" width="3.2" height="3.2" fill="#fff" fill-opacity="0.6" stroke="#222" stroke-width="0.95"/>
<rect x="447.70" y="441.20" width="3.2" height="3.2" fill="#fff" fill-opacity="0.6" stroke="#222" stroke-width="0.95"/>
<rect x="447.70" y="454.40" width="3.2" height="3.2" fill="#fff" fill-opacity="0.6" stroke="#222" stroke-width="0.95"/>
<rect x="447.70" y="467.20" width="3.2" height="3.2" fill="#fff" fill-opacity="0.6" stroke="#222" stroke-width="0.95"/>
<rect x="461.20" y="420.50" width="3.2" height="3.2" fill="#fff" fill-opacity="0.6" stroke="#222" stroke-width="0.95"/>
<rect x="461.20" y="442.60" width="3.2" height="3.2" fill="#fff" fill-opacity="0.6" stroke="#222" stroke-width="0.95"/>
<rect x="461.20" y="459.70" width="3.2" height="3.2" fill="#fff" fill-opacity="0.6" stroke="#222" stroke-width="0.95"/>
<rect x="461.20" y="466.70" width="3.2" height="3.2" fill="#fff" fill-opacity="0.6" stroke="#222" stroke-width="0.95"/>
<rect x="474.80" y="419.90" width="3.2" height="3.2" fill="#fff" fill-opacity="0.6" stroke="#222" stroke-width="0.95"/>
<rect x="471.90" y="468.90" width="3.2" height="3.2" fill="#fff" fill-opacity="0.6" stroke="#222" stroke-width="0.95"/>
<rect x="477.80" y="470.20" width="3.2" height="3.2" fill="#fff" fill-opacity="0.6" stroke="#222" stroke-width="0.95"/>
<rect x="474.80" y="473.80" width="3.2" height="3.2" fill="#fff" fill-opacity="0.6" stroke="#222" stroke-width="0.95"/>
<rect x="488.40" y="441.90" width="3.2" height="3.2" fill="#fff" fill-opacity="0.6" stroke="#222" stroke-width="0.95"/>
<rect x="488.40" y="476.20" width="3.2" height="3.2" fill="#fff" fill-opacity="0.6" stroke="#222" stroke-width="0.95"/>
<rect x="485.30" y="480.10" width="3.2" height="3.2" fill="#fff" fill-opacity="0.6" stroke="#222" stroke-width="0.95"/>
<rect x="491.40" y="480.10" width="3.2" height="3.2" fill="#fff" fill-opacity="0.6" stroke="#222" stroke-width="0.95"/>
<rect x="501.50" y="475.50" width="3.2" height="3.2" fill="#fff" fill-opacity="0.6" stroke="#222" stroke-width="0.95"/>
<rect x="498.50" y="482.80" width="3.2" height="3.2" fill="#fff" fill-opacity="0.6" stroke="#222" stroke-width="0.95"/>
<rect x="504.80" y="481.40" width="3.2" height="3.2" fill="#fff" fill-opacity="0.6" stroke="#222" stroke-width="0.95"/>
<rect x="501.50" y="480.10" width="3.2" height="3.2" fill="#fff" fill-opacity="0.6" stroke="#222" stroke-width="0.95"/>
<text x="449.30" y="413.60" font-size="8.4" text-anchor="middle" fill="#1a1a1a" letter-spacing="0.15">*</text>
<text x="462.80" y="417.10" font-size="8.4" text-anchor="middle" fill="#1a1a1a" letter-spacing="0.15">*</text>
<text x="476.40" y="419.10" font-size="8.4" text-anchor="middle" fill="#1a1a1a" letter-spacing="0.15">*</text>
<text x="489.90" y="439.50" font-size="8.4" text-anchor="middle" fill="#1a1a1a" letter-spacing="0.15">**</text>
<text x="503.50" y="462.60" font-size="8.4" text-anchor="middle" fill="#1a1a1a" letter-spacing="0.15">**</text>
<line x1="413.30" y1="388.70" x2="413.30" y2="491.10" stroke="#222" stroke-width="1.2" />
<line x1="412.70" y1="490.50" x2="513.00" y2="490.50" stroke="#222" stroke-width="1.2" />
<line x1="410.10" y1="490.50" x2="413.30" y2="490.50" stroke="#222" stroke-width="1.1" />
<text x="407.30" y="492.80" font-size="9" text-anchor="end" fill="#2a2a2a" textLength="4.30" lengthAdjust="spacingAndGlyphs">0</text>
<line x1="410.10" y1="465.65" x2="413.30" y2="465.65" stroke="#222" stroke-width="1.1" />
<text x="407.30" y="467.95" font-size="9" text-anchor="end" fill="#2a2a2a" textLength="8.60" lengthAdjust="spacingAndGlyphs">50</text>
<line x1="410.10" y1="440.80" x2="413.30" y2="440.80" stroke="#222" stroke-width="1.1" />
<text x="407.30" y="443.10" font-size="9" text-anchor="end" fill="#2a2a2a" textLength="12.90" lengthAdjust="spacingAndGlyphs">100</text>
<line x1="410.10" y1="415.95" x2="413.30" y2="415.95" stroke="#222" stroke-width="1.1" />
<text x="407.30" y="418.25" font-size="9" text-anchor="end" fill="#2a2a2a" textLength="12.90" lengthAdjust="spacingAndGlyphs">150</text>
<line x1="410.10" y1="391.10" x2="413.30" y2="391.10" stroke="#222" stroke-width="1.1" />
<text x="407.30" y="393.40" font-size="9" text-anchor="end" fill="#2a2a2a" textLength="12.90" lengthAdjust="spacingAndGlyphs">200</text>
<line x1="422.90" y1="490.50" x2="422.90" y2="493.50" stroke="#222" stroke-width="1.1" />
<line x1="436.35" y1="490.50" x2="436.35" y2="493.50" stroke="#222" stroke-width="1.1" />
<line x1="449.80" y1="490.50" x2="449.80" y2="493.50" stroke="#222" stroke-width="1.1" />
<line x1="463.25" y1="490.50" x2="463.25" y2="493.50" stroke="#222" stroke-width="1.1" />
<line x1="476.70" y1="490.50" x2="476.70" y2="493.50" stroke="#222" stroke-width="1.1" />
<line x1="490.15" y1="490.50" x2="490.15" y2="493.50" stroke="#222" stroke-width="1.1" />
<line x1="503.60" y1="490.50" x2="503.60" y2="493.50" stroke="#222" stroke-width="1.1" />
<text transform="translate(378.60,440.10) rotate(-90)" font-size="8.6" text-anchor="middle" fill="#2a2a2a" textLength="73.00" lengthAdjust="spacingAndGlyphs">Dense granule secretion</text>
<text transform="translate(388.40,440.10) rotate(-90)" font-size="8.6" text-anchor="middle" fill="#2a2a2a" textLength="54.00" lengthAdjust="spacingAndGlyphs">(% of vehicle MFI)</text>
<text transform="translate(425.10,502.00) rotate(-45)" font-size="8.6" text-anchor="end" fill="#2a2a2a" textLength="27.18" lengthAdjust="spacingAndGlyphs">Vehicle</text>
<text transform="translate(438.55,502.00) rotate(-45)" font-size="8.6" text-anchor="end" fill="#2a2a2a" textLength="21.09" lengthAdjust="spacingAndGlyphs">3.125</text>
<text transform="translate(452.00,502.00) rotate(-45)" font-size="8.6" text-anchor="end" fill="#2a2a2a" textLength="16.40" lengthAdjust="spacingAndGlyphs">6.25</text>
<text transform="translate(465.45,502.00) rotate(-45)" font-size="8.6" text-anchor="end" fill="#2a2a2a" textLength="16.40" lengthAdjust="spacingAndGlyphs">12.5</text>
<text transform="translate(478.90,502.00) rotate(-45)" font-size="8.6" text-anchor="end" fill="#2a2a2a" textLength="9.37" lengthAdjust="spacingAndGlyphs">25</text>
<text transform="translate(492.35,502.00) rotate(-45)" font-size="8.6" text-anchor="end" fill="#2a2a2a" textLength="9.37" lengthAdjust="spacingAndGlyphs">50</text>
<text transform="translate(505.80,502.00) rotate(-45)" font-size="8.6" text-anchor="end" fill="#2a2a2a" textLength="14.06" lengthAdjust="spacingAndGlyphs">100</text>
<line x1="427.00" y1="520.20" x2="511.00" y2="520.20" stroke="#333" stroke-width="1.1" />
<text x="468.80" y="530.00" font-size="8.2" text-anchor="middle" fill="#2a2a2a" textLength="43.32" lengthAdjust="spacingAndGlyphs">CS585 (nM)</text>
<rect x="55.90" y="592.20" width="8" height="57.40" fill="#6f6f6f"/>
<rect x="69.35" y="601.20" width="8" height="48.40" fill="#dfedf9"/>
<rect x="82.80" y="627.40" width="8" height="22.20" fill="#e6f0fa"/>
<rect x="96.25" y="639.80" width="8" height="9.80" fill="#d5e5f4"/>
<rect x="109.70" y="634.90" width="8" height="14.70" fill="#8bbde5"/>
<rect x="123.15" y="634.90" width="8" height="14.70" fill="#77b3e1"/>
<rect x="136.60" y="634.90" width="8" height="14.70" fill="#3593d2"/>
<line x1="59.90" y1="588.30" x2="59.90" y2="596.10" stroke="#222" stroke-width="1.1" />
<line x1="58.10" y1="588.30" x2="61.70" y2="588.30" stroke="#222" stroke-width="1.1" />
<line x1="58.10" y1="596.10" x2="61.70" y2="596.10" stroke="#222" stroke-width="1.1" />
<line x1="73.35" y1="600.30" x2="73.35" y2="607.40" stroke="#222" stroke-width="1.1" />
<line x1="71.55" y1="600.30" x2="75.15" y2="600.30" stroke="#222" stroke-width="1.1" />
<line x1="71.55" y1="607.40" x2="75.15" y2="607.40" stroke="#222" stroke-width="1.1" />
<line x1="86.80" y1="614.60" x2="86.80" y2="635.50" stroke="#222" stroke-width="1.1" />
<line x1="85.00" y1="614.60" x2="88.60" y2="614.60" stroke="#222" stroke-width="1.1" />
<line x1="85.00" y1="635.50" x2="88.60" y2="635.50" stroke="#222" stroke-width="1.1" />
<line x1="100.25" y1="633.00" x2="100.25" y2="646.60" stroke="#222" stroke-width="1.1" />
<line x1="98.45" y1="633.00" x2="102.05" y2="633.00" stroke="#222" stroke-width="1.1" />
<line x1="98.45" y1="646.60" x2="102.05" y2="646.60" stroke="#222" stroke-width="1.1" />
<line x1="113.70" y1="625.70" x2="113.70" y2="644.10" stroke="#222" stroke-width="1.1" />
<line x1="111.90" y1="625.70" x2="115.50" y2="625.70" stroke="#222" stroke-width="1.1" />
<line x1="111.90" y1="644.10" x2="115.50" y2="644.10" stroke="#222" stroke-width="1.1" />
<line x1="127.15" y1="625.70" x2="127.15" y2="644.10" stroke="#222" stroke-width="1.1" />
<line x1="125.35" y1="625.70" x2="128.95" y2="625.70" stroke="#222" stroke-width="1.1" />
<line x1="125.35" y1="644.10" x2="128.95" y2="644.10" stroke="#222" stroke-width="1.1" />
<line x1="140.60" y1="626.10" x2="140.60" y2="643.70" stroke="#222" stroke-width="1.1" />
<line x1="138.80" y1="626.10" x2="142.40" y2="626.10" stroke="#222" stroke-width="1.1" />
<line x1="138.80" y1="643.70" x2="142.40" y2="643.70" stroke="#222" stroke-width="1.1" />
<rect x="58.10" y="583.10" width="3.2" height="3.2" fill="#fff" fill-opacity="0.6" stroke="#222" stroke-width="0.95"/>
<rect x="58.10" y="586.50" width="3.2" height="3.2" fill="#fff" fill-opacity="0.6" stroke="#222" stroke-width="0.95"/>
<rect x="55.30" y="595.60" width="3.2" height="3.2" fill="#fff" fill-opacity="0.6" stroke="#222" stroke-width="0.95"/>
<rect x="60.90" y="595.60" width="3.2" height="3.2" fill="#fff" fill-opacity="0.6" stroke="#222" stroke-width="0.95"/>
<rect x="68.10" y="596.50" width="3.2" height="3.2" fill="#fff" fill-opacity="0.6" stroke="#222" stroke-width="0.95"/>
<rect x="74.30" y="595.60" width="3.2" height="3.2" fill="#fff" fill-opacity="0.6" stroke="#222" stroke-width="0.95"/>
<rect x="71.10" y="605.20" width="3.2" height="3.2" fill="#fff" fill-opacity="0.6" stroke="#222" stroke-width="0.95"/>
<rect x="71.10" y="613.30" width="3.2" height="3.2" fill="#fff" fill-opacity="0.6" stroke="#222" stroke-width="0.95"/>
<rect x="84.60" y="593.30" width="3.2" height="3.2" fill="#fff" fill-opacity="0.6" stroke="#222" stroke-width="0.95"/>
<rect x="84.60" y="625.50" width="3.2" height="3.2" fill="#fff" fill-opacity="0.6" stroke="#222" stroke-width="0.95"/>
<rect x="82.10" y="638.90" width="3.2" height="3.2" fill="#fff" fill-opacity="0.6" stroke="#222" stroke-width="0.95"/>
<rect x="88.10" y="636.40" width="3.2" height="3.2" fill="#fff" fill-opacity="0.6" stroke="#222" stroke-width="0.95"/>
<rect x="98.50" y="623.00" width="3.2" height="3.2" fill="#fff" fill-opacity="0.6" stroke="#222" stroke-width="0.95"/>
<rect x="98.50" y="635.10" width="3.2" height="3.2" fill="#fff" fill-opacity="0.6" stroke="#222" stroke-width="0.95"/>
<rect x="95.40" y="642.40" width="3.2" height="3.2" fill="#fff" fill-opacity="0.6" stroke="#222" stroke-width="0.95"/>
<rect x="101.90" y="641.70" width="3.2" height="3.2" fill="#fff" fill-opacity="0.6" stroke="#222" stroke-width="0.95"/>
<rect x="111.90" y="608.10" width="3.2" height="3.2" fill="#fff" fill-opacity="0.6" stroke="#222" stroke-width="0.95"/>
<rect x="111.90" y="635.50" width="3.2" height="3.2" fill="#fff" fill-opacity="0.6" stroke="#222" stroke-width="0.95"/>
<rect x="111.90" y="639.70" width="3.2" height="3.2" fill="#fff" fill-opacity="0.6" stroke="#222" stroke-width="0.95"/>
<rect x="111.90" y="644.50" width="3.2" height="3.2" fill="#fff" fill-opacity="0.6" stroke="#222" stroke-width="0.95"/>
<rect x="125.60" y="611.40" width="3.2" height="3.2" fill="#fff" fill-opacity="0.6" stroke="#222" stroke-width="0.95"/>
<rect x="122.60" y="634.20" width="3.2" height="3.2" fill="#fff" fill-opacity="0.6" stroke="#222" stroke-width="0.95"/>
<rect x="128.80" y="636.70" width="3.2" height="3.2" fill="#fff" fill-opacity="0.6" stroke="#222" stroke-width="0.95"/>
<rect x="125.60" y="642.20" width="3.2" height="3.2" fill="#fff" fill-opacity="0.6" stroke="#222" stroke-width="0.95"/>
<rect x="139.00" y="609.30" width="3.2" height="3.2" fill="#fff" fill-opacity="0.6" stroke="#222" stroke-width="0.95"/>
<rect x="139.00" y="635.50" width="3.2" height="3.2" fill="#fff" fill-opacity="0.6" stroke="#222" stroke-width="0.95"/>
<rect x="139.00" y="639.70" width="3.2" height="3.2" fill="#fff" fill-opacity="0.6" stroke="#222" stroke-width="0.95"/>
<rect x="139.00" y="644.20" width="3.2" height="3.2" fill="#fff" fill-opacity="0.6" stroke="#222" stroke-width="0.95"/>
<text x="86.20" y="589.30" font-size="8.4" text-anchor="middle" fill="#1a1a1a" letter-spacing="0.15">*</text>
<text x="100.10" y="618.90" font-size="8.4" text-anchor="middle" fill="#1a1a1a" letter-spacing="0.15">***</text>
<text x="113.50" y="607.60" font-size="8.4" text-anchor="middle" fill="#1a1a1a" letter-spacing="0.15">**</text>
<text x="127.20" y="603.50" font-size="8.4" text-anchor="middle" fill="#1a1a1a" letter-spacing="0.15">**</text>
<text x="140.60" y="607.60" font-size="8.4" text-anchor="middle" fill="#1a1a1a" letter-spacing="0.15">**</text>
<line x1="50.30" y1="547.60" x2="50.30" y2="650.20" stroke="#222" stroke-width="1.2" />
<line x1="49.70" y1="649.60" x2="150.00" y2="649.60" stroke="#222" stroke-width="1.2" />
<line x1="47.10" y1="649.60" x2="50.30" y2="649.60" stroke="#222" stroke-width="1.1" />
<text x="44.30" y="651.90" font-size="9" text-anchor="end" fill="#2a2a2a" textLength="4.30" lengthAdjust="spacingAndGlyphs">0</text>
<line x1="47.10" y1="624.70" x2="50.30" y2="624.70" stroke="#222" stroke-width="1.1" />
<text x="44.30" y="627.00" font-size="9" text-anchor="end" fill="#2a2a2a" textLength="8.60" lengthAdjust="spacingAndGlyphs">50</text>
<line x1="47.10" y1="599.80" x2="50.30" y2="599.80" stroke="#222" stroke-width="1.1" />
<text x="44.30" y="602.10" font-size="9" text-anchor="end" fill="#2a2a2a" textLength="12.90" lengthAdjust="spacingAndGlyphs">100</text>
<line x1="47.10" y1="574.90" x2="50.30" y2="574.90" stroke="#222" stroke-width="1.1" />
<text x="44.30" y="577.20" font-size="9" text-anchor="end" fill="#2a2a2a" textLength="12.90" lengthAdjust="spacingAndGlyphs">150</text>
<line x1="47.10" y1="550.00" x2="50.30" y2="550.00" stroke="#222" stroke-width="1.1" />
<text x="44.30" y="552.30" font-size="9" text-anchor="end" fill="#2a2a2a" textLength="12.90" lengthAdjust="spacingAndGlyphs">200</text>
<line x1="59.90" y1="649.60" x2="59.90" y2="652.60" stroke="#222" stroke-width="1.1" />
<line x1="73.35" y1="649.60" x2="73.35" y2="652.60" stroke="#222" stroke-width="1.1" />
<line x1="86.80" y1="649.60" x2="86.80" y2="652.60" stroke="#222" stroke-width="1.1" />
<line x1="100.25" y1="649.60" x2="100.25" y2="652.60" stroke="#222" stroke-width="1.1" />
<line x1="113.70" y1="649.60" x2="113.70" y2="652.60" stroke="#222" stroke-width="1.1" />
<line x1="127.15" y1="649.60" x2="127.15" y2="652.60" stroke="#222" stroke-width="1.1" />
<line x1="140.60" y1="649.60" x2="140.60" y2="652.60" stroke="#222" stroke-width="1.1" />
<text transform="translate(15.60,599.20) rotate(-90)" font-size="8.6" text-anchor="middle" fill="#2a2a2a" textLength="79.00" lengthAdjust="spacingAndGlyphs">Integrin αIIbβ3 activation</text>
<text transform="translate(25.40,599.20) rotate(-90)" font-size="8.6" text-anchor="middle" fill="#2a2a2a" textLength="54.00" lengthAdjust="spacingAndGlyphs">(% of vehicle MFI)</text>
<text transform="translate(62.10,661.10) rotate(-45)" font-size="8.6" text-anchor="end" fill="#2a2a2a" textLength="27.18" lengthAdjust="spacingAndGlyphs">Vehicle</text>
<text transform="translate(75.55,661.10) rotate(-45)" font-size="8.6" text-anchor="end" fill="#2a2a2a" textLength="14.06" lengthAdjust="spacingAndGlyphs">500</text>
<text transform="translate(89.00,661.10) rotate(-45)" font-size="8.6" text-anchor="end" fill="#2a2a2a" textLength="18.75" lengthAdjust="spacingAndGlyphs">1000</text>
<text transform="translate(102.45,661.10) rotate(-45)" font-size="8.6" text-anchor="end" fill="#2a2a2a" textLength="18.75" lengthAdjust="spacingAndGlyphs">2500</text>
<text transform="translate(115.90,661.10) rotate(-45)" font-size="8.6" text-anchor="end" fill="#2a2a2a" textLength="18.75" lengthAdjust="spacingAndGlyphs">5000</text>
<text transform="translate(129.35,661.10) rotate(-45)" font-size="8.6" text-anchor="end" fill="#2a2a2a" textLength="23.43" lengthAdjust="spacingAndGlyphs">10000</text>
<text transform="translate(142.80,661.10) rotate(-45)" font-size="8.6" text-anchor="end" fill="#2a2a2a" textLength="23.43" lengthAdjust="spacingAndGlyphs">15000</text>
<line x1="64.00" y1="679.30" x2="148.00" y2="679.30" stroke="#333" stroke-width="1.1" />
<text x="105.80" y="689.10" font-size="8.2" text-anchor="middle" fill="#2a2a2a" textLength="54.17" lengthAdjust="spacingAndGlyphs">12-HETrE (nM)</text>
<rect x="237.10" y="595.60" width="8" height="54.00" fill="#6f6f6f"/>
<rect x="250.55" y="601.20" width="8" height="48.40" fill="#e4dbea"/>
<rect x="264.00" y="621.80" width="8" height="27.80" fill="#d5c5df"/>
<rect x="277.45" y="629.20" width="8" height="20.40" fill="#bf9ccd"/>
<rect x="290.90" y="628.60" width="8" height="21.00" fill="#9a6ca9"/>
<rect x="304.35" y="627.10" width="8" height="22.50" fill="#7a3a8c"/>
<rect x="317.80" y="628.00" width="8" height="21.60" fill="#5e2070"/>
<line x1="241.10" y1="588.10" x2="241.10" y2="603.10" stroke="#222" stroke-width="1.1" />
<line x1="239.30" y1="588.10" x2="242.90" y2="588.10" stroke="#222" stroke-width="1.1" />
<line x1="239.30" y1="603.10" x2="242.90" y2="603.10" stroke="#222" stroke-width="1.1" />
<line x1="254.55" y1="595.60" x2="254.55" y2="604.70" stroke="#222" stroke-width="1.1" />
<line x1="252.75" y1="595.60" x2="256.35" y2="595.60" stroke="#222" stroke-width="1.1" />
<line x1="252.75" y1="604.70" x2="256.35" y2="604.70" stroke="#222" stroke-width="1.1" />
<line x1="268.00" y1="611.80" x2="268.00" y2="631.80" stroke="#222" stroke-width="1.1" />
<line x1="266.20" y1="611.80" x2="269.80" y2="611.80" stroke="#222" stroke-width="1.1" />
<line x1="266.20" y1="631.80" x2="269.80" y2="631.80" stroke="#222" stroke-width="1.1" />
<line x1="281.45" y1="621.40" x2="281.45" y2="637.00" stroke="#222" stroke-width="1.1" />
<line x1="279.65" y1="621.40" x2="283.25" y2="621.40" stroke="#222" stroke-width="1.1" />
<line x1="279.65" y1="637.00" x2="283.25" y2="637.00" stroke="#222" stroke-width="1.1" />
<line x1="294.90" y1="618.90" x2="294.90" y2="638.30" stroke="#222" stroke-width="1.1" />
<line x1="293.10" y1="618.90" x2="296.70" y2="618.90" stroke="#222" stroke-width="1.1" />
<line x1="293.10" y1="638.30" x2="296.70" y2="638.30" stroke="#222" stroke-width="1.1" />
<line x1="308.35" y1="618.90" x2="308.35" y2="635.30" stroke="#222" stroke-width="1.1" />
<line x1="306.55" y1="618.90" x2="310.15" y2="618.90" stroke="#222" stroke-width="1.1" />
<line x1="306.55" y1="635.30" x2="310.15" y2="635.30" stroke="#222" stroke-width="1.1" />
<line x1="321.80" y1="618.90" x2="321.80" y2="637.10" stroke="#222" stroke-width="1.1" />
<line x1="320.00" y1="618.90" x2="323.60" y2="618.90" stroke="#222" stroke-width="1.1" />
<line x1="320.00" y1="637.10" x2="323.60" y2="637.10" stroke="#222" stroke-width="1.1" />
<rect x="239.40" y="576.50" width="3.2" height="3.2" fill="#fff" fill-opacity="0.6" stroke="#222" stroke-width="0.95"/>
<rect x="236.90" y="593.30" width="3.2" height="3.2" fill="#fff" fill-opacity="0.6" stroke="#222" stroke-width="0.95"/>
<rect x="242.50" y="593.30" width="3.2" height="3.2" fill="#fff" fill-opacity="0.6" stroke="#222" stroke-width="0.95"/>
<rect x="239.40" y="603.60" width="3.2" height="3.2" fill="#fff" fill-opacity="0.6" stroke="#222" stroke-width="0.95"/>
<rect x="252.50" y="589.40" width="3.2" height="3.2" fill="#fff" fill-opacity="0.6" stroke="#222" stroke-width="0.95"/>
<rect x="249.40" y="596.10" width="3.2" height="3.2" fill="#fff" fill-opacity="0.6" stroke="#222" stroke-width="0.95"/>
<rect x="256.20" y="596.80" width="3.2" height="3.2" fill="#fff" fill-opacity="0.6" stroke="#222" stroke-width="0.95"/>
<rect x="252.50" y="612.40" width="3.2" height="3.2" fill="#fff" fill-opacity="0.6" stroke="#222" stroke-width="0.95"/>
<rect x="266.20" y="594.00" width="3.2" height="3.2" fill="#fff" fill-opacity="0.6" stroke="#222" stroke-width="0.95"/>
<rect x="266.20" y="616.40" width="3.2" height="3.2" fill="#fff" fill-opacity="0.6" stroke="#222" stroke-width="0.95"/>
<rect x="266.20" y="629.30" width="3.2" height="3.2" fill="#fff" fill-opacity="0.6" stroke="#222" stroke-width="0.95"/>
<rect x="266.20" y="636.10" width="3.2" height="3.2" fill="#fff" fill-opacity="0.6" stroke="#222" stroke-width="0.95"/>
<rect x="279.90" y="604.60" width="3.2" height="3.2" fill="#fff" fill-opacity="0.6" stroke="#222" stroke-width="0.95"/>
<rect x="279.90" y="629.50" width="3.2" height="3.2" fill="#fff" fill-opacity="0.6" stroke="#222" stroke-width="0.95"/>
<rect x="276.80" y="638.20" width="3.2" height="3.2" fill="#fff" fill-opacity="0.6" stroke="#222" stroke-width="0.95"/>
<rect x="282.80" y="636.00" width="3.2" height="3.2" fill="#fff" fill-opacity="0.6" stroke="#222" stroke-width="0.95"/>
<rect x="293.20" y="599.60" width="3.2" height="3.2" fill="#fff" fill-opacity="0.6" stroke="#222" stroke-width="0.95"/>
<rect x="293.20" y="631.40" width="3.2" height="3.2" fill="#fff" fill-opacity="0.6" stroke="#222" stroke-width="0.95"/>
<rect x="290.40" y="638.50" width="3.2" height="3.2" fill="#fff" fill-opacity="0.6" stroke="#222" stroke-width="0.95"/>
<rect x="296.10" y="637.00" width="3.2" height="3.2" fill="#fff" fill-opacity="0.6" stroke="#222" stroke-width="0.95"/>
<rect x="307.30" y="601.10" width="3.2" height="3.2" fill="#fff" fill-opacity="0.6" stroke="#222" stroke-width="0.95"/>
<rect x="307.30" y="630.80" width="3.2" height="3.2" fill="#fff" fill-opacity="0.6" stroke="#222" stroke-width="0.95"/>
<rect x="307.30" y="633.30" width="3.2" height="3.2" fill="#fff" fill-opacity="0.6" stroke="#222" stroke-width="0.95"/>
<rect x="307.30" y="635.70" width="3.2" height="3.2" fill="#fff" fill-opacity="0.6" stroke="#222" stroke-width="0.95"/>
<rect x="320.70" y="600.20" width="3.2" height="3.2" fill="#fff" fill-opacity="0.6" stroke="#222" stroke-width="0.95"/>
<rect x="317.80" y="632.00" width="3.2" height="3.2" fill="#fff" fill-opacity="0.6" stroke="#222" stroke-width="0.95"/>
<rect x="323.50" y="632.00" width="3.2" height="3.2" fill="#fff" fill-opacity="0.6" stroke="#222" stroke-width="0.95"/>
<rect x="320.70" y="638.20" width="3.2" height="3.2" fill="#fff" fill-opacity="0.6" stroke="#222" stroke-width="0.95"/>
<text x="281.50" y="596.40" font-size="8.4" text-anchor="middle" fill="#1a1a1a" letter-spacing="0.15">**</text>
<text x="294.80" y="592.70" font-size="8.4" text-anchor="middle" fill="#1a1a1a" letter-spacing="0.15">**</text>
<text x="308.90" y="596.40" font-size="8.4" text-anchor="middle" fill="#1a1a1a" letter-spacing="0.15">**</text>
<text x="322.30" y="592.70" font-size="8.4" text-anchor="middle" fill="#1a1a1a" letter-spacing="0.15">**</text>
<line x1="231.50" y1="547.60" x2="231.50" y2="650.20" stroke="#222" stroke-width="1.2" />
<line x1="230.90" y1="649.60" x2="331.20" y2="649.60" stroke="#222" stroke-width="1.2" />
<line x1="228.30" y1="649.60" x2="231.50" y2="649.60" stroke="#222" stroke-width="1.1" />
<text x="225.50" y="651.90" font-size="9" text-anchor="end" fill="#2a2a2a" textLength="4.30" lengthAdjust="spacingAndGlyphs">0</text>
<line x1="228.30" y1="624.70" x2="231.50" y2="624.70" stroke="#222" stroke-width="1.1" />
<text x="225.50" y="627.00" font-size="9" text-anchor="end" fill="#2a2a2a" textLength="8.60" lengthAdjust="spacingAndGlyphs">50</text>
<line x1="228.30" y1="599.80" x2="231.50" y2="599.80" stroke="#222" stroke-width="1.1" />
<text x="225.50" y="602.10" font-size="9" text-anchor="end" fill="#2a2a2a" textLength="12.90" lengthAdjust="spacingAndGlyphs">100</text>
<line x1="228.30" y1="574.90" x2="231.50" y2="574.90" stroke="#222" stroke-width="1.1" />
<text x="225.50" y="577.20" font-size="9" text-anchor="end" fill="#2a2a2a" textLength="12.90" lengthAdjust="spacingAndGlyphs">150</text>
<line x1="228.30" y1="550.00" x2="231.50" y2="550.00" stroke="#222" stroke-width="1.1" />
<text x="225.50" y="552.30" font-size="9" text-anchor="end" fill="#2a2a2a" textLength="12.90" lengthAdjust="spacingAndGlyphs">200</text>
<line x1="241.10" y1="649.60" x2="241.10" y2="652.60" stroke="#222" stroke-width="1.1" />
<line x1="254.55" y1="649.60" x2="254.55" y2="652.60" stroke="#222" stroke-width="1.1" />
<line x1="268.00" y1="649.60" x2="268.00" y2="652.60" stroke="#222" stroke-width="1.1" />
<line x1="281.45" y1="649.60" x2="281.45" y2="652.60" stroke="#222" stroke-width="1.1" />
<line x1="294.90" y1="649.60" x2="294.90" y2="652.60" stroke="#222" stroke-width="1.1" />
<line x1="308.35" y1="649.60" x2="308.35" y2="652.60" stroke="#222" stroke-width="1.1" />
<line x1="321.80" y1="649.60" x2="321.80" y2="652.60" stroke="#222" stroke-width="1.1" />
<text transform="translate(196.80,599.20) rotate(-90)" font-size="8.6" text-anchor="middle" fill="#2a2a2a" textLength="62.00" lengthAdjust="spacingAndGlyphs">α-granule secretion</text>
<text transform="translate(206.60,599.20) rotate(-90)" font-size="8.6" text-anchor="middle" fill="#2a2a2a" textLength="54.00" lengthAdjust="spacingAndGlyphs">(% of vehicle MFI)</text>
<text transform="translate(243.30,661.10) rotate(-45)" font-size="8.6" text-anchor="end" fill="#2a2a2a" textLength="27.18" lengthAdjust="spacingAndGlyphs">Vehicle</text>
<text transform="translate(256.75,661.10) rotate(-45)" font-size="8.6" text-anchor="end" fill="#2a2a2a" textLength="14.06" lengthAdjust="spacingAndGlyphs">500</text>
<text transform="translate(270.20,661.10) rotate(-45)" font-size="8.6" text-anchor="end" fill="#2a2a2a" textLength="18.75" lengthAdjust="spacingAndGlyphs">1000</text>
<text transform="translate(283.65,661.10) rotate(-45)" font-size="8.6" text-anchor="end" fill="#2a2a2a" textLength="18.75" lengthAdjust="spacingAndGlyphs">2500</text>
<text transform="translate(297.10,661.10) rotate(-45)" font-size="8.6" text-anchor="end" fill="#2a2a2a" textLength="18.75" lengthAdjust="spacingAndGlyphs">5000</text>
<text transform="translate(310.55,661.10) rotate(-45)" font-size="8.6" text-anchor="end" fill="#2a2a2a" textLength="23.43" lengthAdjust="spacingAndGlyphs">10000</text>
<text transform="translate(324.00,661.10) rotate(-45)" font-size="8.6" text-anchor="end" fill="#2a2a2a" textLength="23.43" lengthAdjust="spacingAndGlyphs">15000</text>
<line x1="245.20" y1="679.30" x2="329.20" y2="679.30" stroke="#333" stroke-width="1.1" />
<text x="287.00" y="689.10" font-size="8.2" text-anchor="middle" fill="#2a2a2a" textLength="54.17" lengthAdjust="spacingAndGlyphs">12-HETrE (nM)</text>
<rect x="418.90" y="593.20" width="8" height="56.40" fill="#6f6f6f"/>
<rect x="432.35" y="598.20" width="8" height="51.40" fill="#fde6cf"/>
<rect x="445.80" y="619.30" width="8" height="30.30" fill="#feeedd"/>
<rect x="459.25" y="628.50" width="8" height="21.10" fill="#fcd8b2"/>
<rect x="472.70" y="627.20" width="8" height="22.40" fill="#fcc590"/>
<rect x="486.15" y="624.30" width="8" height="25.30" fill="#f7a445"/>
<rect x="499.60" y="623.30" width="8" height="26.30" fill="#f39020"/>
<line x1="422.90" y1="582.40" x2="422.90" y2="604.00" stroke="#222" stroke-width="1.1" />
<line x1="421.10" y1="582.40" x2="424.70" y2="582.40" stroke="#222" stroke-width="1.1" />
<line x1="421.10" y1="604.00" x2="424.70" y2="604.00" stroke="#222" stroke-width="1.1" />
<line x1="436.35" y1="593.00" x2="436.35" y2="603.40" stroke="#222" stroke-width="1.1" />
<line x1="434.55" y1="593.00" x2="438.15" y2="593.00" stroke="#222" stroke-width="1.1" />
<line x1="434.55" y1="603.40" x2="438.15" y2="603.40" stroke="#222" stroke-width="1.1" />
<line x1="449.80" y1="608.10" x2="449.80" y2="629.60" stroke="#222" stroke-width="1.1" />
<line x1="448.00" y1="608.10" x2="451.60" y2="608.10" stroke="#222" stroke-width="1.1" />
<line x1="448.00" y1="629.60" x2="451.60" y2="629.60" stroke="#222" stroke-width="1.1" />
<line x1="463.25" y1="618.30" x2="463.25" y2="638.70" stroke="#222" stroke-width="1.1" />
<line x1="461.45" y1="618.30" x2="465.05" y2="618.30" stroke="#222" stroke-width="1.1" />
<line x1="461.45" y1="638.70" x2="465.05" y2="638.70" stroke="#222" stroke-width="1.1" />
<line x1="476.70" y1="614.30" x2="476.70" y2="640.10" stroke="#222" stroke-width="1.1" />
<line x1="474.90" y1="614.30" x2="478.50" y2="614.30" stroke="#222" stroke-width="1.1" />
<line x1="474.90" y1="640.10" x2="478.50" y2="640.10" stroke="#222" stroke-width="1.1" />
<line x1="490.15" y1="613.00" x2="490.15" y2="635.60" stroke="#222" stroke-width="1.1" />
<line x1="488.35" y1="613.00" x2="491.95" y2="613.00" stroke="#222" stroke-width="1.1" />
<line x1="488.35" y1="635.60" x2="491.95" y2="635.60" stroke="#222" stroke-width="1.1" />
<line x1="503.60" y1="612.10" x2="503.60" y2="634.50" stroke="#222" stroke-width="1.1" />
<line x1="501.80" y1="612.10" x2="505.40" y2="612.10" stroke="#222" stroke-width="1.1" />
<line x1="501.80" y1="634.50" x2="505.40" y2="634.50" stroke="#222" stroke-width="1.1" />
<rect x="420.90" y="561.00" width="3.2" height="3.2" fill="#fff" fill-opacity="0.6" stroke="#222" stroke-width="0.95"/>
<rect x="420.90" y="596.00" width="3.2" height="3.2" fill="#fff" fill-opacity="0.6" stroke="#222" stroke-width="0.95"/>
<rect x="417.70" y="603.00" width="3.2" height="3.2" fill="#fff" fill-opacity="0.6" stroke="#222" stroke-width="0.95"/>
<rect x="424.10" y="602.30" width="3.2" height="3.2" fill="#fff" fill-opacity="0.6" stroke="#222" stroke-width="0.95"/>
<rect x="434.50" y="590.00" width="3.2" height="3.2" fill="#fff" fill-opacity="0.6" stroke="#222" stroke-width="0.95"/>
<rect x="434.50" y="593.70" width="3.2" height="3.2" fill="#fff" fill-opacity="0.6" stroke="#222" stroke-width="0.95"/>
<rect x="434.50" y="601.90" width="3.2" height="3.2" fill="#fff" fill-opacity="0.6" stroke="#222" stroke-width="0.95"/>
<rect x="434.50" y="607.20" width="3.2" height="3.2" fill="#fff" fill-opacity="0.6" stroke="#222" stroke-width="0.95"/>
<rect x="447.70" y="596.90" width="3.2" height="3.2" fill="#fff" fill-opacity="0.6" stroke="#222" stroke-width="0.95"/>
<rect x="447.70" y="606.50" width="3.2" height="3.2" fill="#fff" fill-opacity="0.6" stroke="#222" stroke-width="0.95"/>
<rect x="447.70" y="632.20" width="3.2" height="3.2" fill="#fff" fill-opacity="0.6" stroke="#222" stroke-width="0.95"/>
<rect x="447.70" y="637.20" width="3.2" height="3.2" fill="#fff" fill-opacity="0.6" stroke="#222" stroke-width="0.95"/>
<rect x="461.20" y="597.90" width="3.2" height="3.2" fill="#fff" fill-opacity="0.6" stroke="#222" stroke-width="0.95"/>
<rect x="461.20" y="633.50" width="3.2" height="3.2" fill="#fff" fill-opacity="0.6" stroke="#222" stroke-width="0.95"/>
<rect x="458.20" y="637.50" width="3.2" height="3.2" fill="#fff" fill-opacity="0.6" stroke="#222" stroke-width="0.95"/>
<rect x="464.10" y="637.50" width="3.2" height="3.2" fill="#fff" fill-opacity="0.6" stroke="#222" stroke-width="0.95"/>
<rect x="475.20" y="589.40" width="3.2" height="3.2" fill="#fff" fill-opacity="0.6" stroke="#222" stroke-width="0.95"/>
<rect x="471.90" y="634.20" width="3.2" height="3.2" fill="#fff" fill-opacity="0.6" stroke="#222" stroke-width="0.95"/>
<rect x="471.90" y="637.80" width="3.2" height="3.2" fill="#fff" fill-opacity="0.6" stroke="#222" stroke-width="0.95"/>
<rect x="478.20" y="636.20" width="3.2" height="3.2" fill="#fff" fill-opacity="0.6" stroke="#222" stroke-width="0.95"/>
<rect x="488.40" y="590.30" width="3.2" height="3.2" fill="#fff" fill-opacity="0.6" stroke="#222" stroke-width="0.95"/>
<rect x="485.30" y="630.20" width="3.2" height="3.2" fill="#fff" fill-opacity="0.6" stroke="#222" stroke-width="0.95"/>
<rect x="491.60" y="630.90" width="3.2" height="3.2" fill="#fff" fill-opacity="0.6" stroke="#222" stroke-width="0.95"/>
<rect x="488.40" y="636.80" width="3.2" height="3.2" fill="#fff" fill-opacity="0.6" stroke="#222" stroke-width="0.95"/>
<rect x="502.20" y="589.40" width="3.2" height="3.2" fill="#fff" fill-opacity="0.6" stroke="#222" stroke-width="0.95"/>
<rect x="502.20" y="628.30" width="3.2" height="3.2" fill="#fff" fill-opacity="0.6" stroke="#222" stroke-width="0.95"/>
<rect x="502.20" y="631.20" width="3.2" height="3.2" fill="#fff" fill-opacity="0.6" stroke="#222" stroke-width="0.95"/>
<rect x="502.20" y="634.60" width="3.2" height="3.2" fill="#fff" fill-opacity="0.6" stroke="#222" stroke-width="0.95"/>
<text x="462.80" y="591.60" font-size="8.4" text-anchor="middle" fill="#1a1a1a" letter-spacing="0.15">***</text>
<text x="476.80" y="582.80" font-size="8.4" text-anchor="middle" fill="#1a1a1a" letter-spacing="0.15">***</text>
<text x="490.00" y="576.20" font-size="8.4" text-anchor="middle" fill="#1a1a1a" letter-spacing="0.15">***</text>
<text x="503.80" y="582.80" font-size="8.4" text-anchor="middle" fill="#1a1a1a" letter-spacing="0.15">****</text>
<line x1="413.30" y1="547.60" x2="413.30" y2="650.20" stroke="#222" stroke-width="1.2" />
<line x1="412.70" y1="649.60" x2="513.00" y2="649.60" stroke="#222" stroke-width="1.2" />
<line x1="410.10" y1="649.60" x2="413.30" y2="649.60" stroke="#222" stroke-width="1.1" />
<text x="407.30" y="651.90" font-size="9" text-anchor="end" fill="#2a2a2a" textLength="4.30" lengthAdjust="spacingAndGlyphs">0</text>
<line x1="410.10" y1="624.70" x2="413.30" y2="624.70" stroke="#222" stroke-width="1.1" />
<text x="407.30" y="627.00" font-size="9" text-anchor="end" fill="#2a2a2a" textLength="8.60" lengthAdjust="spacingAndGlyphs">50</text>
<line x1="410.10" y1="599.80" x2="413.30" y2="599.80" stroke="#222" stroke-width="1.1" />
<text x="407.30" y="602.10" font-size="9" text-anchor="end" fill="#2a2a2a" textLength="12.90" lengthAdjust="spacingAndGlyphs">100</text>
<line x1="410.10" y1="574.90" x2="413.30" y2="574.90" stroke="#222" stroke-width="1.1" />
<text x="407.30" y="577.20" font-size="9" text-anchor="end" fill="#2a2a2a" textLength="12.90" lengthAdjust="spacingAndGlyphs">150</text>
<line x1="410.10" y1="550.00" x2="413.30" y2="550.00" stroke="#222" stroke-width="1.1" />
<text x="407.30" y="552.30" font-size="9" text-anchor="end" fill="#2a2a2a" textLength="12.90" lengthAdjust="spacingAndGlyphs">200</text>
<line x1="422.90" y1="649.60" x2="422.90" y2="652.60" stroke="#222" stroke-width="1.1" />
<line x1="436.35" y1="649.60" x2="436.35" y2="652.60" stroke="#222" stroke-width="1.1" />
<line x1="449.80" y1="649.60" x2="449.80" y2="652.60" stroke="#222" stroke-width="1.1" />
<line x1="463.25" y1="649.60" x2="463.25" y2="652.60" stroke="#222" stroke-width="1.1" />
<line x1="476.70" y1="649.60" x2="476.70" y2="652.60" stroke="#222" stroke-width="1.1" />
<line x1="490.15" y1="649.60" x2="490.15" y2="652.60" stroke="#222" stroke-width="1.1" />
<line x1="503.60" y1="649.60" x2="503.60" y2="652.60" stroke="#222" stroke-width="1.1" />
<text transform="translate(378.60,599.20) rotate(-90)" font-size="8.6" text-anchor="middle" fill="#2a2a2a" textLength="73.00" lengthAdjust="spacingAndGlyphs">Dense granule secretion</text>
<text transform="translate(388.40,599.20) rotate(-90)" font-size="8.6" text-anchor="middle" fill="#2a2a2a" textLength="54.00" lengthAdjust="spacingAndGlyphs">(% of vehicle MFI)</text>
<text transform="translate(425.10,661.10) rotate(-45)" font-size="8.6" text-anchor="end" fill="#2a2a2a" textLength="27.18" lengthAdjust="spacingAndGlyphs">Vehicle</text>
<text transform="translate(438.55,661.10) rotate(-45)" font-size="8.6" text-anchor="end" fill="#2a2a2a" textLength="14.06" lengthAdjust="spacingAndGlyphs">500</text>
<text transform="translate(452.00,661.10) rotate(-45)" font-size="8.6" text-anchor="end" fill="#2a2a2a" textLength="18.75" lengthAdjust="spacingAndGlyphs">1000</text>
<text transform="translate(465.45,661.10) rotate(-45)" font-size="8.6" text-anchor="end" fill="#2a2a2a" textLength="18.75" lengthAdjust="spacingAndGlyphs">2500</text>
<text transform="translate(478.90,661.10) rotate(-45)" font-size="8.6" text-anchor="end" fill="#2a2a2a" textLength="18.75" lengthAdjust="spacingAndGlyphs">5000</text>
<text transform="translate(492.35,661.10) rotate(-45)" font-size="8.6" text-anchor="end" fill="#2a2a2a" textLength="23.43" lengthAdjust="spacingAndGlyphs">10000</text>
<text transform="translate(505.80,661.10) rotate(-45)" font-size="8.6" text-anchor="end" fill="#2a2a2a" textLength="23.43" lengthAdjust="spacingAndGlyphs">15000</text>
<line x1="427.00" y1="679.30" x2="511.00" y2="679.30" stroke="#333" stroke-width="1.1" />
<text x="468.80" y="689.10" font-size="8.2" text-anchor="middle" fill="#2a2a2a" textLength="54.17" lengthAdjust="spacingAndGlyphs">12-HETrE (nM)</text>
<line x1="80.20" y1="81.15" x2="90.59" y2="87.03" stroke="#2b2b2b" stroke-width="1.05" stroke-linecap="round"/>
<line x1="90.59" y1="87.03" x2="90.59" y2="98.78" stroke="#2b2b2b" stroke-width="1.05" stroke-linecap="round"/>
<line x1="90.59" y1="98.78" x2="80.20" y2="104.65" stroke="#2b2b2b" stroke-width="1.05" stroke-linecap="round"/>
<line x1="80.20" y1="104.65" x2="69.81" y2="98.78" stroke="#2b2b2b" stroke-width="1.05" stroke-linecap="round"/>
<line x1="69.81" y1="98.78" x2="69.81" y2="87.03" stroke="#2b2b2b" stroke-width="1.05" stroke-linecap="round"/>
<line x1="69.81" y1="87.03" x2="80.20" y2="81.15" stroke="#2b2b2b" stroke-width="1.05" stroke-linecap="round"/>
<line x1="80.77" y1="83.77" x2="88.05" y2="87.88" stroke="#2b2b2b" stroke-width="1.05" stroke-linecap="round"/>
<line x1="88.05" y1="97.92" x2="80.77" y2="102.03" stroke="#2b2b2b" stroke-width="1.05" stroke-linecap="round"/>
<line x1="71.81" y1="97.01" x2="71.81" y2="88.79" stroke="#2b2b2b" stroke-width="1.05" stroke-linecap="round"/>
<line x1="49.02" y1="63.53" x2="59.42" y2="69.40" stroke="#2b2b2b" stroke-width="1.05" stroke-linecap="round"/>
<line x1="59.42" y1="69.40" x2="59.42" y2="81.15" stroke="#2b2b2b" stroke-width="1.05" stroke-linecap="round"/>
<line x1="59.42" y1="81.15" x2="49.02" y2="87.03" stroke="#2b2b2b" stroke-width="1.05" stroke-linecap="round"/>
<line x1="49.02" y1="87.03" x2="38.63" y2="81.15" stroke="#2b2b2b" stroke-width="1.05" stroke-linecap="round"/>
<line x1="38.63" y1="81.15" x2="38.63" y2="69.40" stroke="#2b2b2b" stroke-width="1.05" stroke-linecap="round"/>
<line x1="38.63" y1="69.40" x2="49.02" y2="63.53" stroke="#2b2b2b" stroke-width="1.05" stroke-linecap="round"/>
<line x1="41.17" y1="70.26" x2="48.45" y2="66.15" stroke="#2b2b2b" stroke-width="1.05" stroke-linecap="round"/>
<line x1="57.42" y1="71.16" x2="57.42" y2="79.39" stroke="#2b2b2b" stroke-width="1.05" stroke-linecap="round"/>
<line x1="48.45" y1="84.40" x2="41.17" y2="80.29" stroke="#2b2b2b" stroke-width="1.05" stroke-linecap="round"/>
<line x1="49.02" y1="98.78" x2="59.42" y2="104.65" stroke="#2b2b2b" stroke-width="1.05" stroke-linecap="round"/>
<line x1="59.42" y1="104.65" x2="59.42" y2="116.40" stroke="#2b2b2b" stroke-width="1.05" stroke-linecap="round"/>
<line x1="59.42" y1="116.40" x2="49.02" y2="122.28" stroke="#2b2b2b" stroke-width="1.05" stroke-linecap="round"/>
<line x1="49.02" y1="122.28" x2="38.63" y2="116.40" stroke="#2b2b2b" stroke-width="1.05" stroke-linecap="round"/>
<line x1="38.63" y1="116.40" x2="38.63" y2="104.65" stroke="#2b2b2b" stroke-width="1.05" stroke-linecap="round"/>
<line x1="38.63" y1="104.65" x2="49.02" y2="98.78" stroke="#2b2b2b" stroke-width="1.05" stroke-linecap="round"/>
<line x1="49.60" y1="101.40" x2="56.87" y2="105.51" stroke="#2b2b2b" stroke-width="1.05" stroke-linecap="round"/>
<line x1="40.63" y1="114.64" x2="40.63" y2="106.41" stroke="#2b2b2b" stroke-width="1.05" stroke-linecap="round"/>
<line x1="56.87" y1="115.54" x2="49.60" y2="119.65" stroke="#2b2b2b" stroke-width="1.05" stroke-linecap="round"/>
<line x1="69.81" y1="87.03" x2="59.42" y2="81.15" stroke="#2b2b2b" stroke-width="1.05" stroke-linecap="round"/>
<line x1="69.81" y1="98.78" x2="59.42" y2="104.65" stroke="#2b2b2b" stroke-width="1.05" stroke-linecap="round"/>
<line x1="90.59" y1="98.78" x2="102.60" y2="105.40" stroke="#2b2b2b" stroke-width="1.05" stroke-linecap="round"/>
<line x1="102.60" y1="105.40" x2="112.80" y2="98.50" stroke="#2b2b2b" stroke-width="1.05" stroke-linecap="round"/>
<line x1="112.80" y1="98.50" x2="122.60" y2="104.60" stroke="#2b2b2b" stroke-width="1.05" stroke-linecap="round"/>
<line x1="122.60" y1="104.60" x2="133.10" y2="98.50" stroke="#2b2b2b" stroke-width="1.05" stroke-linecap="round"/>
<line x1="133.10" y1="98.50" x2="143.10" y2="104.60" stroke="#2b2b2b" stroke-width="1.05" stroke-linecap="round"/>
<line x1="143.10" y1="104.60" x2="156.20" y2="97.70" stroke="#2b2b2b" stroke-width="1.05" stroke-linecap="round"/>
<line x1="102.60" y1="105.40" x2="102.60" y2="116.90" stroke="#2b2b2b" stroke-width="1.05" stroke-linecap="round"/>
<line x1="102.60" y1="116.90" x2="92.30" y2="122.80" stroke="#2b2b2b" stroke-width="1.05" stroke-linecap="round"/>
<line x1="102.60" y1="116.90" x2="112.80" y2="122.80" stroke="#2b2b2b" stroke-width="1.05" stroke-linecap="round"/>
<line x1="156.20" y1="97.70" x2="166.30" y2="90.20" stroke="#2b2b2b" stroke-width="1.05" stroke-linecap="round"/>
<line x1="166.30" y1="90.20" x2="166.30" y2="78.70" stroke="#2b2b2b" stroke-width="1.05" stroke-linecap="round"/>
<line x1="166.30" y1="78.70" x2="177.40" y2="75.20" stroke="#2b2b2b" stroke-width="1.05" stroke-linecap="round"/>
<line x1="177.40" y1="75.20" x2="184.00" y2="84.45" stroke="#2b2b2b" stroke-width="1.05" stroke-linecap="round"/>
<line x1="184.00" y1="84.45" x2="177.40" y2="93.75" stroke="#2b2b2b" stroke-width="1.05" stroke-linecap="round"/>
<line x1="177.40" y1="93.75" x2="166.30" y2="90.20" stroke="#2b2b2b" stroke-width="1.05" stroke-linecap="round"/>
<line x1="168.57" y1="88.83" x2="176.34" y2="91.31" stroke="#2b2b2b" stroke-width="1.05" stroke-linecap="round"/>
<line x1="178.54" y1="75.57" x2="182.04" y2="64.67" stroke="#2b2b2b" stroke-width="1.05" stroke-linecap="round"/>
<line x1="176.26" y1="74.83" x2="179.76" y2="63.93" stroke="#2b2b2b" stroke-width="1.05" stroke-linecap="round"/>
<text x="80.20" y="83.74" font-size="7.2" text-anchor="middle" fill="#2b2b2b" stroke="#fff" stroke-width="2.2" paint-order="stroke" stroke-linejoin="round">N</text>
<text x="80.20" y="107.24" font-size="7.2" text-anchor="middle" fill="#2b2b2b" stroke="#fff" stroke-width="2.2" paint-order="stroke" stroke-linejoin="round">N</text>
<text x="102.60" y="107.99" font-size="7.2" text-anchor="middle" fill="#2b2b2b" stroke="#fff" stroke-width="2.2" paint-order="stroke" stroke-linejoin="round">N</text>
<text x="156.20" y="100.29" font-size="7.2" text-anchor="middle" fill="#2b2b2b" stroke="#fff" stroke-width="2.2" paint-order="stroke" stroke-linejoin="round">S</text>
<text x="168.32" y="81.29" font-size="7.2" text-anchor="end" fill="#2b2b2b" stroke="#fff" stroke-width="2.2" paint-order="stroke" stroke-linejoin="round">HN</text>
<text x="181.98" y="87.04" font-size="7.2" text-anchor="start" fill="#2b2b2b" stroke="#fff" stroke-width="2.2" paint-order="stroke" stroke-linejoin="round">NH</text>
<text x="177.40" y="96.34" font-size="7.2" text-anchor="middle" fill="#2b2b2b" stroke="#fff" stroke-width="2.2" paint-order="stroke" stroke-linejoin="round">N</text>
<text x="180.90" y="66.89" font-size="7.2" text-anchor="middle" fill="#2b2b2b" stroke="#fff" stroke-width="2.2" paint-order="stroke" stroke-linejoin="round">O</text>
<text x="89.10" y="140.00" font-size="8.4" text-anchor="middle" fill="#2a2a2a" textLength="24.00" lengthAdjust="spacingAndGlyphs">CS585</text>
<line x1="244.70" y1="37.33" x2="252.23" y2="41.59" stroke="#2b2b2b" stroke-width="0.9" stroke-linecap="round"/>
<line x1="252.23" y1="41.59" x2="252.23" y2="50.11" stroke="#2b2b2b" stroke-width="0.9" stroke-linecap="round"/>
<line x1="252.23" y1="50.11" x2="244.70" y2="54.37" stroke="#2b2b2b" stroke-width="0.9" stroke-linecap="round"/>
<line x1="244.70" y1="54.37" x2="237.17" y2="50.11" stroke="#2b2b2b" stroke-width="0.9" stroke-linecap="round"/>
<line x1="237.17" y1="50.11" x2="237.17" y2="41.59" stroke="#2b2b2b" stroke-width="0.9" stroke-linecap="round"/>
<line x1="237.17" y1="41.59" x2="244.70" y2="37.33" stroke="#2b2b2b" stroke-width="0.9" stroke-linecap="round"/>
<line x1="245.12" y1="39.23" x2="250.39" y2="42.21" stroke="#2b2b2b" stroke-width="0.9" stroke-linecap="round"/>
<line x1="250.39" y1="49.49" x2="245.12" y2="52.47" stroke="#2b2b2b" stroke-width="0.9" stroke-linecap="round"/>
<line x1="238.62" y1="48.83" x2="238.62" y2="42.87" stroke="#2b2b2b" stroke-width="0.9" stroke-linecap="round"/>
<line x1="222.10" y1="24.55" x2="229.63" y2="28.81" stroke="#2b2b2b" stroke-width="0.9" stroke-linecap="round"/>
<line x1="229.63" y1="28.81" x2="229.63" y2="37.33" stroke="#2b2b2b" stroke-width="0.9" stroke-linecap="round"/>
<line x1="229.63" y1="37.33" x2="222.10" y2="41.59" stroke="#2b2b2b" stroke-width="0.9" stroke-linecap="round"/>
<line x1="222.10" y1="41.59" x2="214.56" y2="37.33" stroke="#2b2b2b" stroke-width="0.9" stroke-linecap="round"/>
<line x1="214.56" y1="37.33" x2="214.56" y2="28.81" stroke="#2b2b2b" stroke-width="0.9" stroke-linecap="round"/>
<line x1="214.56" y1="28.81" x2="222.10" y2="24.55" stroke="#2b2b2b" stroke-width="0.9" stroke-linecap="round"/>
<line x1="216.41" y1="29.44" x2="221.68" y2="26.45" stroke="#2b2b2b" stroke-width="0.9" stroke-linecap="round"/>
<line x1="228.18" y1="30.09" x2="228.18" y2="36.05" stroke="#2b2b2b" stroke-width="0.9" stroke-linecap="round"/>
<line x1="221.68" y1="39.69" x2="216.41" y2="36.71" stroke="#2b2b2b" stroke-width="0.9" stroke-linecap="round"/>
<line x1="222.10" y1="50.11" x2="229.63" y2="54.37" stroke="#2b2b2b" stroke-width="0.9" stroke-linecap="round"/>
<line x1="229.63" y1="54.37" x2="229.63" y2="62.89" stroke="#2b2b2b" stroke-width="0.9" stroke-linecap="round"/>
<line x1="229.63" y1="62.89" x2="222.10" y2="67.15" stroke="#2b2b2b" stroke-width="0.9" stroke-linecap="round"/>
<line x1="222.10" y1="67.15" x2="214.56" y2="62.89" stroke="#2b2b2b" stroke-width="0.9" stroke-linecap="round"/>
<line x1="214.56" y1="62.89" x2="214.56" y2="54.37" stroke="#2b2b2b" stroke-width="0.9" stroke-linecap="round"/>
<line x1="214.56" y1="54.37" x2="222.10" y2="50.11" stroke="#2b2b2b" stroke-width="0.9" stroke-linecap="round"/>
<line x1="222.51" y1="52.01" x2="227.79" y2="54.99" stroke="#2b2b2b" stroke-width="0.9" stroke-linecap="round"/>
<line x1="216.01" y1="61.61" x2="216.01" y2="55.65" stroke="#2b2b2b" stroke-width="0.9" stroke-linecap="round"/>
<line x1="227.79" y1="62.26" x2="222.51" y2="65.25" stroke="#2b2b2b" stroke-width="0.9" stroke-linecap="round"/>
<line x1="237.17" y1="41.59" x2="229.63" y2="37.33" stroke="#2b2b2b" stroke-width="0.9" stroke-linecap="round"/>
<line x1="237.17" y1="50.11" x2="229.63" y2="54.37" stroke="#2b2b2b" stroke-width="0.9" stroke-linecap="round"/>
<text x="244.70" y="39.71" font-size="6.6" text-anchor="middle" fill="#2b2b2b" stroke="#fff" stroke-width="2.2" paint-order="stroke" stroke-linejoin="round">N</text>
<text x="244.70" y="56.74" font-size="6.6" text-anchor="middle" fill="#2b2b2b" stroke="#fff" stroke-width="2.2" paint-order="stroke" stroke-linejoin="round">N</text>
<line x1="252.23" y1="50.11" x2="259.77" y2="54.46" stroke="#2b2b2b" stroke-width="0.9" stroke-linecap="round"/>
<text x="257.47" y="57.09" font-size="6.2" text-anchor="start" fill="#2b2b2b" stroke="#fff" stroke-width="2.2" paint-order="stroke" stroke-linejoin="round">Br</text>
<text x="242.70" y="79.60" font-size="7.0" text-anchor="middle" fill="#2a2a2a" font-weight="normal" >1</text>
<line x1="285.00" y1="29.80" x2="285.00" y2="37.60" stroke="#2b2b2b" stroke-width="0.9" stroke-linecap="round"/>
<line x1="285.00" y1="37.60" x2="277.60" y2="42.20" stroke="#2b2b2b" stroke-width="0.9" stroke-linecap="round"/>
<line x1="285.00" y1="37.60" x2="292.00" y2="42.20" stroke="#2b2b2b" stroke-width="0.9" stroke-linecap="round"/>
<line x1="285.00" y1="29.80" x2="292.20" y2="25.70" stroke="#2b2b2b" stroke-width="0.9" stroke-linecap="round"/>
<line x1="292.20" y1="25.70" x2="299.50" y2="29.90" stroke="#2b2b2b" stroke-width="0.9" stroke-linecap="round"/>
<line x1="299.50" y1="29.90" x2="306.80" y2="25.70" stroke="#2b2b2b" stroke-width="0.9" stroke-linecap="round"/>
<line x1="306.80" y1="25.70" x2="314.10" y2="29.90" stroke="#2b2b2b" stroke-width="0.9" stroke-linecap="round"/>
<line x1="314.10" y1="29.90" x2="321.40" y2="25.70" stroke="#2b2b2b" stroke-width="0.9" stroke-linecap="round"/>
<text x="286.70" y="32.18" font-size="6.6" text-anchor="end" fill="#2b2b2b" stroke="#fff" stroke-width="2.2" paint-order="stroke" stroke-linejoin="round">HN</text>
<text x="319.60" y="28.08" font-size="6.6" text-anchor="start" fill="#2b2b2b" stroke="#fff" stroke-width="2.2" paint-order="stroke" stroke-linejoin="round">OH</text>
<text x="302.90" y="39.30" font-size="7.0" text-anchor="middle" fill="#2a2a2a" font-weight="normal" >2</text>
<line x1="277.50" y1="46.50" x2="320.50" y2="46.50" stroke="#222" stroke-width="1.2" />
<path d="M324.50,46.50 L317.50,43.60 L318.90,46.50 L317.50,49.40 Z" fill="#222"/>
<text x="301.20" y="58.00" font-size="7.0" text-anchor="middle" fill="#2a2a2a" textLength="28.78" lengthAdjust="spacingAndGlyphs">KI, 140° C</text>
<text x="301.20" y="64.80" font-size="7.0" text-anchor="middle" fill="#2a2a2a" textLength="16.80" lengthAdjust="spacingAndGlyphs">(67%)</text>
<line x1="377.80" y1="37.98" x2="385.33" y2="42.24" stroke="#2b2b2b" stroke-width="0.9" stroke-linecap="round"/>
<line x1="385.33" y1="42.24" x2="385.33" y2="50.76" stroke="#2b2b2b" stroke-width="0.9" stroke-linecap="round"/>
<line x1="385.33" y1="50.76" x2="377.80" y2="55.02" stroke="#2b2b2b" stroke-width="0.9" stroke-linecap="round"/>
<line x1="377.80" y1="55.02" x2="370.27" y2="50.76" stroke="#2b2b2b" stroke-width="0.9" stroke-linecap="round"/>
<line x1="370.27" y1="50.76" x2="370.27" y2="42.24" stroke="#2b2b2b" stroke-width="0.9" stroke-linecap="round"/>
<line x1="370.27" y1="42.24" x2="377.80" y2="37.98" stroke="#2b2b2b" stroke-width="0.9" stroke-linecap="round"/>
<line x1="378.22" y1="39.88" x2="383.49" y2="42.86" stroke="#2b2b2b" stroke-width="0.9" stroke-linecap="round"/>
<line x1="383.49" y1="50.14" x2="378.22" y2="53.12" stroke="#2b2b2b" stroke-width="0.9" stroke-linecap="round"/>
<line x1="371.72" y1="49.48" x2="371.72" y2="43.52" stroke="#2b2b2b" stroke-width="0.9" stroke-linecap="round"/>
<line x1="355.20" y1="25.20" x2="362.73" y2="29.46" stroke="#2b2b2b" stroke-width="0.9" stroke-linecap="round"/>
<line x1="362.73" y1="29.46" x2="362.73" y2="37.98" stroke="#2b2b2b" stroke-width="0.9" stroke-linecap="round"/>
<line x1="362.73" y1="37.98" x2="355.20" y2="42.24" stroke="#2b2b2b" stroke-width="0.9" stroke-linecap="round"/>
<line x1="355.20" y1="42.24" x2="347.66" y2="37.98" stroke="#2b2b2b" stroke-width="0.9" stroke-linecap="round"/>
<line x1="347.66" y1="37.98" x2="347.66" y2="29.46" stroke="#2b2b2b" stroke-width="0.9" stroke-linecap="round"/>
<line x1="347.66" y1="29.46" x2="355.20" y2="25.20" stroke="#2b2b2b" stroke-width="0.9" stroke-linecap="round"/>
<line x1="349.51" y1="30.09" x2="354.78" y2="27.10" stroke="#2b2b2b" stroke-width="0.9" stroke-linecap="round"/>
<line x1="361.28" y1="30.74" x2="361.28" y2="36.70" stroke="#2b2b2b" stroke-width="0.9" stroke-linecap="round"/>
<line x1="354.78" y1="40.34" x2="349.51" y2="37.36" stroke="#2b2b2b" stroke-width="0.9" stroke-linecap="round"/>
<line x1="355.20" y1="50.76" x2="362.73" y2="55.02" stroke="#2b2b2b" stroke-width="0.9" stroke-linecap="round"/>
<line x1="362.73" y1="55.02" x2="362.73" y2="63.54" stroke="#2b2b2b" stroke-width="0.9" stroke-linecap="round"/>
<line x1="362.73" y1="63.54" x2="355.20" y2="67.80" stroke="#2b2b2b" stroke-width="0.9" stroke-linecap="round"/>
<line x1="355.20" y1="67.80" x2="347.66" y2="63.54" stroke="#2b2b2b" stroke-width="0.9" stroke-linecap="round"/>
<line x1="347.66" y1="63.54" x2="347.66" y2="55.02" stroke="#2b2b2b" stroke-width="0.9" stroke-linecap="round"/>
<line x1="347.66" y1="55.02" x2="355.20" y2="50.76" stroke="#2b2b2b" stroke-width="0.9" stroke-linecap="round"/>
<line x1="355.61" y1="52.66" x2="360.89" y2="55.64" stroke="#2b2b2b" stroke-width="0.9" stroke-linecap="round"/>
<line x1="349.11" y1="62.26" x2="349.11" y2="56.30" stroke="#2b2b2b" stroke-width="0.9" stroke-linecap="round"/>
<line x1="360.89" y1="62.91" x2="355.61" y2="65.90" stroke="#2b2b2b" stroke-width="0.9" stroke-linecap="round"/>
<line x1="370.27" y1="42.24" x2="362.73" y2="37.98" stroke="#2b2b2b" stroke-width="0.9" stroke-linecap="round"/>
<line x1="370.27" y1="50.76" x2="362.73" y2="55.02" stroke="#2b2b2b" stroke-width="0.9" stroke-linecap="round"/>
<text x="377.80" y="40.36" font-size="6.6" text-anchor="middle" fill="#2b2b2b" stroke="#fff" stroke-width="2.2" paint-order="stroke" stroke-linejoin="round">N</text>
<text x="377.80" y="57.39" font-size="6.6" text-anchor="middle" fill="#2b2b2b" stroke="#fff" stroke-width="2.2" paint-order="stroke" stroke-linejoin="round">N</text>
<line x1="385.33" y1="50.76" x2="394.04" y2="55.56" stroke="#2b2b2b" stroke-width="0.9" stroke-linecap="round"/>
<line x1="394.04" y1="55.56" x2="401.44" y2="50.56" stroke="#2b2b2b" stroke-width="0.9" stroke-linecap="round"/>
<line x1="401.44" y1="50.56" x2="408.54" y2="54.98" stroke="#2b2b2b" stroke-width="0.9" stroke-linecap="round"/>
<line x1="408.54" y1="54.98" x2="416.15" y2="50.56" stroke="#2b2b2b" stroke-width="0.9" stroke-linecap="round"/>
<line x1="416.15" y1="50.56" x2="423.40" y2="54.98" stroke="#2b2b2b" stroke-width="0.9" stroke-linecap="round"/>
<line x1="423.40" y1="54.98" x2="431.09" y2="50.12" stroke="#2b2b2b" stroke-width="0.9" stroke-linecap="round"/>
<line x1="394.04" y1="55.56" x2="394.04" y2="63.90" stroke="#2b2b2b" stroke-width="0.9" stroke-linecap="round"/>
<line x1="394.04" y1="63.90" x2="386.57" y2="68.18" stroke="#2b2b2b" stroke-width="0.9" stroke-linecap="round"/>
<line x1="394.04" y1="63.90" x2="401.44" y2="68.18" stroke="#2b2b2b" stroke-width="0.9" stroke-linecap="round"/>
<text x="394.04" y="57.94" font-size="6.6" text-anchor="middle" fill="#2b2b2b" stroke="#fff" stroke-width="2.2" paint-order="stroke" stroke-linejoin="round">N</text>
<text x="429.29" y="52.50" font-size="6.6" text-anchor="start" fill="#2b2b2b" stroke="#fff" stroke-width="2.2" paint-order="stroke" stroke-linejoin="round">OH</text>
<text x="374.60" y="79.30" font-size="7.0" text-anchor="middle" fill="#2a2a2a" font-weight="normal" >3</text>
<line x1="455.10" y1="47.30" x2="498.20" y2="47.30" stroke="#222" stroke-width="1.2" />
<path d="M502.20,47.30 L495.20,44.40 L496.60,47.30 L495.20,50.20 Z" fill="#222"/>
<text x="475.50" y="43.50" font-size="7.0" text-anchor="middle" fill="#2a2a2a" textLength="39.55" lengthAdjust="spacingAndGlyphs">TsCl, 4-DMAP</text>
<text x="475.40" y="57.60" font-size="7.0" text-anchor="middle" fill="#2a2a2a" textLength="26.13" lengthAdjust="spacingAndGlyphs">DCM, RT</text>
<text x="475.30" y="65.70" font-size="7.0" text-anchor="middle" fill="#2a2a2a" textLength="16.80" lengthAdjust="spacingAndGlyphs">(65%)</text>
<line x1="245.90" y1="128.98" x2="253.43" y2="133.24" stroke="#2b2b2b" stroke-width="0.9" stroke-linecap="round"/>
<line x1="253.43" y1="133.24" x2="253.43" y2="141.76" stroke="#2b2b2b" stroke-width="0.9" stroke-linecap="round"/>
<line x1="253.43" y1="141.76" x2="245.90" y2="146.02" stroke="#2b2b2b" stroke-width="0.9" stroke-linecap="round"/>
<line x1="245.90" y1="146.02" x2="238.37" y2="141.76" stroke="#2b2b2b" stroke-width="0.9" stroke-linecap="round"/>
<line x1="238.37" y1="141.76" x2="238.37" y2="133.24" stroke="#2b2b2b" stroke-width="0.9" stroke-linecap="round"/>
<line x1="238.37" y1="133.24" x2="245.90" y2="128.98" stroke="#2b2b2b" stroke-width="0.9" stroke-linecap="round"/>
<line x1="246.32" y1="130.88" x2="251.59" y2="133.86" stroke="#2b2b2b" stroke-width="0.9" stroke-linecap="round"/>
<line x1="251.59" y1="141.14" x2="246.32" y2="144.12" stroke="#2b2b2b" stroke-width="0.9" stroke-linecap="round"/>
<line x1="239.82" y1="140.48" x2="239.82" y2="134.52" stroke="#2b2b2b" stroke-width="0.9" stroke-linecap="round"/>
<line x1="223.30" y1="116.20" x2="230.83" y2="120.46" stroke="#2b2b2b" stroke-width="0.9" stroke-linecap="round"/>
<line x1="230.83" y1="120.46" x2="230.83" y2="128.98" stroke="#2b2b2b" stroke-width="0.9" stroke-linecap="round"/>
<line x1="230.83" y1="128.98" x2="223.30" y2="133.24" stroke="#2b2b2b" stroke-width="0.9" stroke-linecap="round"/>
<line x1="223.30" y1="133.24" x2="215.76" y2="128.98" stroke="#2b2b2b" stroke-width="0.9" stroke-linecap="round"/>
<line x1="215.76" y1="128.98" x2="215.76" y2="120.46" stroke="#2b2b2b" stroke-width="0.9" stroke-linecap="round"/>
<line x1="215.76" y1="120.46" x2="223.30" y2="116.20" stroke="#2b2b2b" stroke-width="0.9" stroke-linecap="round"/>
<line x1="217.61" y1="121.09" x2="222.88" y2="118.10" stroke="#2b2b2b" stroke-width="0.9" stroke-linecap="round"/>
<line x1="229.38" y1="121.74" x2="229.38" y2="127.70" stroke="#2b2b2b" stroke-width="0.9" stroke-linecap="round"/>
<line x1="222.88" y1="131.34" x2="217.61" y2="128.36" stroke="#2b2b2b" stroke-width="0.9" stroke-linecap="round"/>
<line x1="223.30" y1="141.76" x2="230.83" y2="146.02" stroke="#2b2b2b" stroke-width="0.9" stroke-linecap="round"/>
<line x1="230.83" y1="146.02" x2="230.83" y2="154.54" stroke="#2b2b2b" stroke-width="0.9" stroke-linecap="round"/>
<line x1="230.83" y1="154.54" x2="223.30" y2="158.80" stroke="#2b2b2b" stroke-width="0.9" stroke-linecap="round"/>
<line x1="223.30" y1="158.80" x2="215.76" y2="154.54" stroke="#2b2b2b" stroke-width="0.9" stroke-linecap="round"/>
<line x1="215.76" y1="154.54" x2="215.76" y2="146.02" stroke="#2b2b2b" stroke-width="0.9" stroke-linecap="round"/>
<line x1="215.76" y1="146.02" x2="223.30" y2="141.76" stroke="#2b2b2b" stroke-width="0.9" stroke-linecap="round"/>
<line x1="223.71" y1="143.66" x2="228.99" y2="146.64" stroke="#2b2b2b" stroke-width="0.9" stroke-linecap="round"/>
<line x1="217.21" y1="153.26" x2="217.21" y2="147.30" stroke="#2b2b2b" stroke-width="0.9" stroke-linecap="round"/>
<line x1="228.99" y1="153.91" x2="223.71" y2="156.90" stroke="#2b2b2b" stroke-width="0.9" stroke-linecap="round"/>
<line x1="238.37" y1="133.24" x2="230.83" y2="128.98" stroke="#2b2b2b" stroke-width="0.9" stroke-linecap="round"/>
<line x1="238.37" y1="141.76" x2="230.83" y2="146.02" stroke="#2b2b2b" stroke-width="0.9" stroke-linecap="round"/>
<text x="245.90" y="131.36" font-size="6.6" text-anchor="middle" fill="#2b2b2b" stroke="#fff" stroke-width="2.2" paint-order="stroke" stroke-linejoin="round">N</text>
<text x="245.90" y="148.39" font-size="6.6" text-anchor="middle" fill="#2b2b2b" stroke="#fff" stroke-width="2.2" paint-order="stroke" stroke-linejoin="round">N</text>
<line x1="253.43" y1="141.76" x2="262.14" y2="146.56" stroke="#2b2b2b" stroke-width="0.9" stroke-linecap="round"/>
<line x1="262.14" y1="146.56" x2="269.54" y2="141.56" stroke="#2b2b2b" stroke-width="0.9" stroke-linecap="round"/>
<line x1="269.54" y1="141.56" x2="276.64" y2="145.98" stroke="#2b2b2b" stroke-width="0.9" stroke-linecap="round"/>
<line x1="276.64" y1="145.98" x2="284.25" y2="141.56" stroke="#2b2b2b" stroke-width="0.9" stroke-linecap="round"/>
<line x1="284.25" y1="141.56" x2="291.50" y2="145.98" stroke="#2b2b2b" stroke-width="0.9" stroke-linecap="round"/>
<line x1="291.50" y1="145.98" x2="299.19" y2="141.12" stroke="#2b2b2b" stroke-width="0.9" stroke-linecap="round"/>
<line x1="262.14" y1="146.56" x2="262.14" y2="154.90" stroke="#2b2b2b" stroke-width="0.9" stroke-linecap="round"/>
<line x1="262.14" y1="154.90" x2="254.67" y2="159.18" stroke="#2b2b2b" stroke-width="0.9" stroke-linecap="round"/>
<line x1="262.14" y1="154.90" x2="269.54" y2="159.18" stroke="#2b2b2b" stroke-width="0.9" stroke-linecap="round"/>
<text x="262.14" y="148.94" font-size="6.6" text-anchor="middle" fill="#2b2b2b" stroke="#fff" stroke-width="2.2" paint-order="stroke" stroke-linejoin="round">N</text>
<text x="297.39" y="143.50" font-size="6.6" text-anchor="start" fill="#2b2b2b" stroke="#fff" stroke-width="2.2" paint-order="stroke" stroke-linejoin="round">OTs</text>
<text x="244.40" y="172.70" font-size="7.0" text-anchor="middle" fill="#2a2a2a" font-weight="normal" >4</text>
<line x1="337.80" y1="116.80" x2="345.20" y2="114.10" stroke="#2b2b2b" stroke-width="0.9" stroke-linecap="round"/>
<line x1="345.20" y1="114.10" x2="351.60" y2="121.50" stroke="#2b2b2b" stroke-width="0.9" stroke-linecap="round"/>
<line x1="351.60" y1="121.50" x2="345.90" y2="128.30" stroke="#2b2b2b" stroke-width="0.9" stroke-linecap="round"/>
<line x1="345.90" y1="128.30" x2="339.10" y2="125.20" stroke="#2b2b2b" stroke-width="0.9" stroke-linecap="round"/>
<line x1="339.10" y1="125.20" x2="337.80" y2="116.80" stroke="#2b2b2b" stroke-width="0.9" stroke-linecap="round"/>
<line x1="345.03" y1="116.19" x2="349.51" y2="121.37" stroke="#2b2b2b" stroke-width="0.9" stroke-linecap="round"/>
<line x1="340.74" y1="124.30" x2="345.50" y2="126.47" stroke="#2b2b2b" stroke-width="0.9" stroke-linecap="round"/>
<line x1="345.20" y1="114.10" x2="348.40" y2="106.30" stroke="#2b2b2b" stroke-width="0.9" stroke-linecap="round"/>
<line x1="339.10" y1="125.20" x2="330.60" y2="130.50" stroke="#2b2b2b" stroke-width="0.9" stroke-linecap="round"/>
<text x="339.50" y="119.18" font-size="6.6" text-anchor="end" fill="#2b2b2b" stroke="#fff" stroke-width="2.2" paint-order="stroke" stroke-linejoin="round">HN</text>
<text x="351.60" y="123.88" font-size="6.6" text-anchor="middle" fill="#2b2b2b" stroke="#fff" stroke-width="2.2" paint-order="stroke" stroke-linejoin="round">N</text>
<text x="345.90" y="130.68" font-size="6.6" text-anchor="middle" fill="#2b2b2b" stroke="#fff" stroke-width="2.2" paint-order="stroke" stroke-linejoin="round">N</text>
<text x="346.50" y="108.68" font-size="6.6" text-anchor="start" fill="#2b2b2b" stroke="#fff" stroke-width="2.2" paint-order="stroke" stroke-linejoin="round">OH</text>
<text x="332.40" y="132.88" font-size="6.6" text-anchor="end" fill="#2b2b2b" stroke="#fff" stroke-width="2.2" paint-order="stroke" stroke-linejoin="round">HS</text>
<text x="346.50" y="138.20" font-size="7.0" text-anchor="middle" fill="#2a2a2a" font-weight="normal" >5</text>
<line x1="319.10" y1="142.20" x2="361.20" y2="142.20" stroke="#222" stroke-width="1.2" />
<path d="M365.20,142.20 L358.20,139.30 L359.60,142.20 L358.20,145.10 Z" fill="#222"/>
<text x="340.9" y="155.0" font-size="7.0" text-anchor="middle" fill="#2a2a2a" textLength="40" lengthAdjust="spacingAndGlyphs">N<tspan font-size="5" dy="1.5">2</tspan><tspan dy="-1.5">H, DMF, RT</tspan></text>
<text x="341.30" y="162.60" font-size="7.0" text-anchor="middle" fill="#2a2a2a" textLength="16.80" lengthAdjust="spacingAndGlyphs">(67%)</text>
<line x1="418.80" y1="131.98" x2="426.33" y2="136.24" stroke="#2b2b2b" stroke-width="0.9" stroke-linecap="round"/>
<line x1="426.33" y1="136.24" x2="426.33" y2="144.76" stroke="#2b2b2b" stroke-width="0.9" stroke-linecap="round"/>
<line x1="426.33" y1="144.76" x2="418.80" y2="149.02" stroke="#2b2b2b" stroke-width="0.9" stroke-linecap="round"/>
<line x1="418.80" y1="149.02" x2="411.27" y2="144.76" stroke="#2b2b2b" stroke-width="0.9" stroke-linecap="round"/>
<line x1="411.27" y1="144.76" x2="411.27" y2="136.24" stroke="#2b2b2b" stroke-width="0.9" stroke-linecap="round"/>
<line x1="411.27" y1="136.24" x2="418.80" y2="131.98" stroke="#2b2b2b" stroke-width="0.9" stroke-linecap="round"/>
<line x1="419.22" y1="133.88" x2="424.49" y2="136.86" stroke="#2b2b2b" stroke-width="0.9" stroke-linecap="round"/>
<line x1="424.49" y1="144.14" x2="419.22" y2="147.12" stroke="#2b2b2b" stroke-width="0.9" stroke-linecap="round"/>
<line x1="412.72" y1="143.48" x2="412.72" y2="137.52" stroke="#2b2b2b" stroke-width="0.9" stroke-linecap="round"/>
<line x1="396.20" y1="119.20" x2="403.73" y2="123.46" stroke="#2b2b2b" stroke-width="0.9" stroke-linecap="round"/>
<line x1="403.73" y1="123.46" x2="403.73" y2="131.98" stroke="#2b2b2b" stroke-width="0.9" stroke-linecap="round"/>
<line x1="403.73" y1="131.98" x2="396.20" y2="136.24" stroke="#2b2b2b" stroke-width="0.9" stroke-linecap="round"/>
<line x1="396.20" y1="136.24" x2="388.66" y2="131.98" stroke="#2b2b2b" stroke-width="0.9" stroke-linecap="round"/>
<line x1="388.66" y1="131.98" x2="388.66" y2="123.46" stroke="#2b2b2b" stroke-width="0.9" stroke-linecap="round"/>
<line x1="388.66" y1="123.46" x2="396.20" y2="119.20" stroke="#2b2b2b" stroke-width="0.9" stroke-linecap="round"/>
<line x1="390.51" y1="124.09" x2="395.78" y2="121.10" stroke="#2b2b2b" stroke-width="0.9" stroke-linecap="round"/>
<line x1="402.28" y1="124.74" x2="402.28" y2="130.70" stroke="#2b2b2b" stroke-width="0.9" stroke-linecap="round"/>
<line x1="395.78" y1="134.34" x2="390.51" y2="131.36" stroke="#2b2b2b" stroke-width="0.9" stroke-linecap="round"/>
<line x1="396.20" y1="144.76" x2="403.73" y2="149.02" stroke="#2b2b2b" stroke-width="0.9" stroke-linecap="round"/>
<line x1="403.73" y1="149.02" x2="403.73" y2="157.54" stroke="#2b2b2b" stroke-width="0.9" stroke-linecap="round"/>
<line x1="403.73" y1="157.54" x2="396.20" y2="161.80" stroke="#2b2b2b" stroke-width="0.9" stroke-linecap="round"/>
<line x1="396.20" y1="161.80" x2="388.66" y2="157.54" stroke="#2b2b2b" stroke-width="0.9" stroke-linecap="round"/>
<line x1="388.66" y1="157.54" x2="388.66" y2="149.02" stroke="#2b2b2b" stroke-width="0.9" stroke-linecap="round"/>
<line x1="388.66" y1="149.02" x2="396.20" y2="144.76" stroke="#2b2b2b" stroke-width="0.9" stroke-linecap="round"/>
<line x1="396.61" y1="146.66" x2="401.89" y2="149.64" stroke="#2b2b2b" stroke-width="0.9" stroke-linecap="round"/>
<line x1="390.11" y1="156.26" x2="390.11" y2="150.30" stroke="#2b2b2b" stroke-width="0.9" stroke-linecap="round"/>
<line x1="401.89" y1="156.91" x2="396.61" y2="159.90" stroke="#2b2b2b" stroke-width="0.9" stroke-linecap="round"/>
<line x1="411.27" y1="136.24" x2="403.73" y2="131.98" stroke="#2b2b2b" stroke-width="0.9" stroke-linecap="round"/>
<line x1="411.27" y1="144.76" x2="403.73" y2="149.02" stroke="#2b2b2b" stroke-width="0.9" stroke-linecap="round"/>
<line x1="426.33" y1="144.76" x2="435.04" y2="149.56" stroke="#2b2b2b" stroke-width="0.9" stroke-linecap="round"/>
<line x1="435.04" y1="149.56" x2="442.44" y2="144.56" stroke="#2b2b2b" stroke-width="0.9" stroke-linecap="round"/>
<line x1="442.44" y1="144.56" x2="449.54" y2="148.98" stroke="#2b2b2b" stroke-width="0.9" stroke-linecap="round"/>
<line x1="449.54" y1="148.98" x2="457.15" y2="144.56" stroke="#2b2b2b" stroke-width="0.9" stroke-linecap="round"/>
<line x1="457.15" y1="144.56" x2="464.40" y2="148.98" stroke="#2b2b2b" stroke-width="0.9" stroke-linecap="round"/>
<line x1="464.40" y1="148.98" x2="473.90" y2="143.98" stroke="#2b2b2b" stroke-width="0.9" stroke-linecap="round"/>
<line x1="435.04" y1="149.56" x2="435.04" y2="157.90" stroke="#2b2b2b" stroke-width="0.9" stroke-linecap="round"/>
<line x1="435.04" y1="157.90" x2="427.57" y2="162.18" stroke="#2b2b2b" stroke-width="0.9" stroke-linecap="round"/>
<line x1="435.04" y1="157.90" x2="442.44" y2="162.18" stroke="#2b2b2b" stroke-width="0.9" stroke-linecap="round"/>
<line x1="473.90" y1="143.98" x2="481.22" y2="138.54" stroke="#2b2b2b" stroke-width="0.9" stroke-linecap="round"/>
<line x1="481.22" y1="138.54" x2="481.22" y2="130.20" stroke="#2b2b2b" stroke-width="0.9" stroke-linecap="round"/>
<line x1="481.22" y1="130.20" x2="489.27" y2="127.67" stroke="#2b2b2b" stroke-width="0.9" stroke-linecap="round"/>
<line x1="489.27" y1="127.67" x2="494.06" y2="134.37" stroke="#2b2b2b" stroke-width="0.9" stroke-linecap="round"/>
<line x1="494.06" y1="134.37" x2="489.27" y2="141.12" stroke="#2b2b2b" stroke-width="0.9" stroke-linecap="round"/>
<line x1="489.27" y1="141.12" x2="481.22" y2="138.54" stroke="#2b2b2b" stroke-width="0.9" stroke-linecap="round"/>
<line x1="482.87" y1="137.55" x2="488.50" y2="139.35" stroke="#2b2b2b" stroke-width="0.9" stroke-linecap="round"/>
<line x1="490.10" y1="127.93" x2="492.64" y2="120.03" stroke="#2b2b2b" stroke-width="0.9" stroke-linecap="round"/>
<line x1="488.44" y1="127.40" x2="490.98" y2="119.50" stroke="#2b2b2b" stroke-width="0.9" stroke-linecap="round"/>
<text x="418.80" y="134.36" font-size="6.6" text-anchor="middle" fill="#2b2b2b" stroke="#fff" stroke-width="2.2" paint-order="stroke" stroke-linejoin="round">N</text>
<text x="418.80" y="151.39" font-size="6.6" text-anchor="middle" fill="#2b2b2b" stroke="#fff" stroke-width="2.2" paint-order="stroke" stroke-linejoin="round">N</text>
<text x="435.04" y="151.94" font-size="6.6" text-anchor="middle" fill="#2b2b2b" stroke="#fff" stroke-width="2.2" paint-order="stroke" stroke-linejoin="round">N</text>
<text x="473.90" y="146.36" font-size="6.6" text-anchor="middle" fill="#2b2b2b" stroke="#fff" stroke-width="2.2" paint-order="stroke" stroke-linejoin="round">S</text>
<text x="483.07" y="132.58" font-size="6.6" text-anchor="end" fill="#2b2b2b" stroke="#fff" stroke-width="2.2" paint-order="stroke" stroke-linejoin="round">HN</text>
<text x="492.21" y="136.75" font-size="6.6" text-anchor="start" fill="#2b2b2b" stroke="#fff" stroke-width="2.2" paint-order="stroke" stroke-linejoin="round">NH</text>
<text x="489.27" y="143.49" font-size="6.6" text-anchor="middle" fill="#2b2b2b" stroke="#fff" stroke-width="2.2" paint-order="stroke" stroke-linejoin="round">N</text>
<text x="491.81" y="122.14" font-size="6.6" text-anchor="middle" fill="#2b2b2b" stroke="#fff" stroke-width="2.2" paint-order="stroke" stroke-linejoin="round">O</text>
<text x="426.20" y="174.00" font-size="8.2" text-anchor="middle" fill="#2a2a2a" textLength="23.40" lengthAdjust="spacingAndGlyphs">CS585</text>
<rect x="0.5" y="0.5" width="519" height="697" fill="none" stroke="#4a4a4a" stroke-width="1"/>
</svg></body></html>
